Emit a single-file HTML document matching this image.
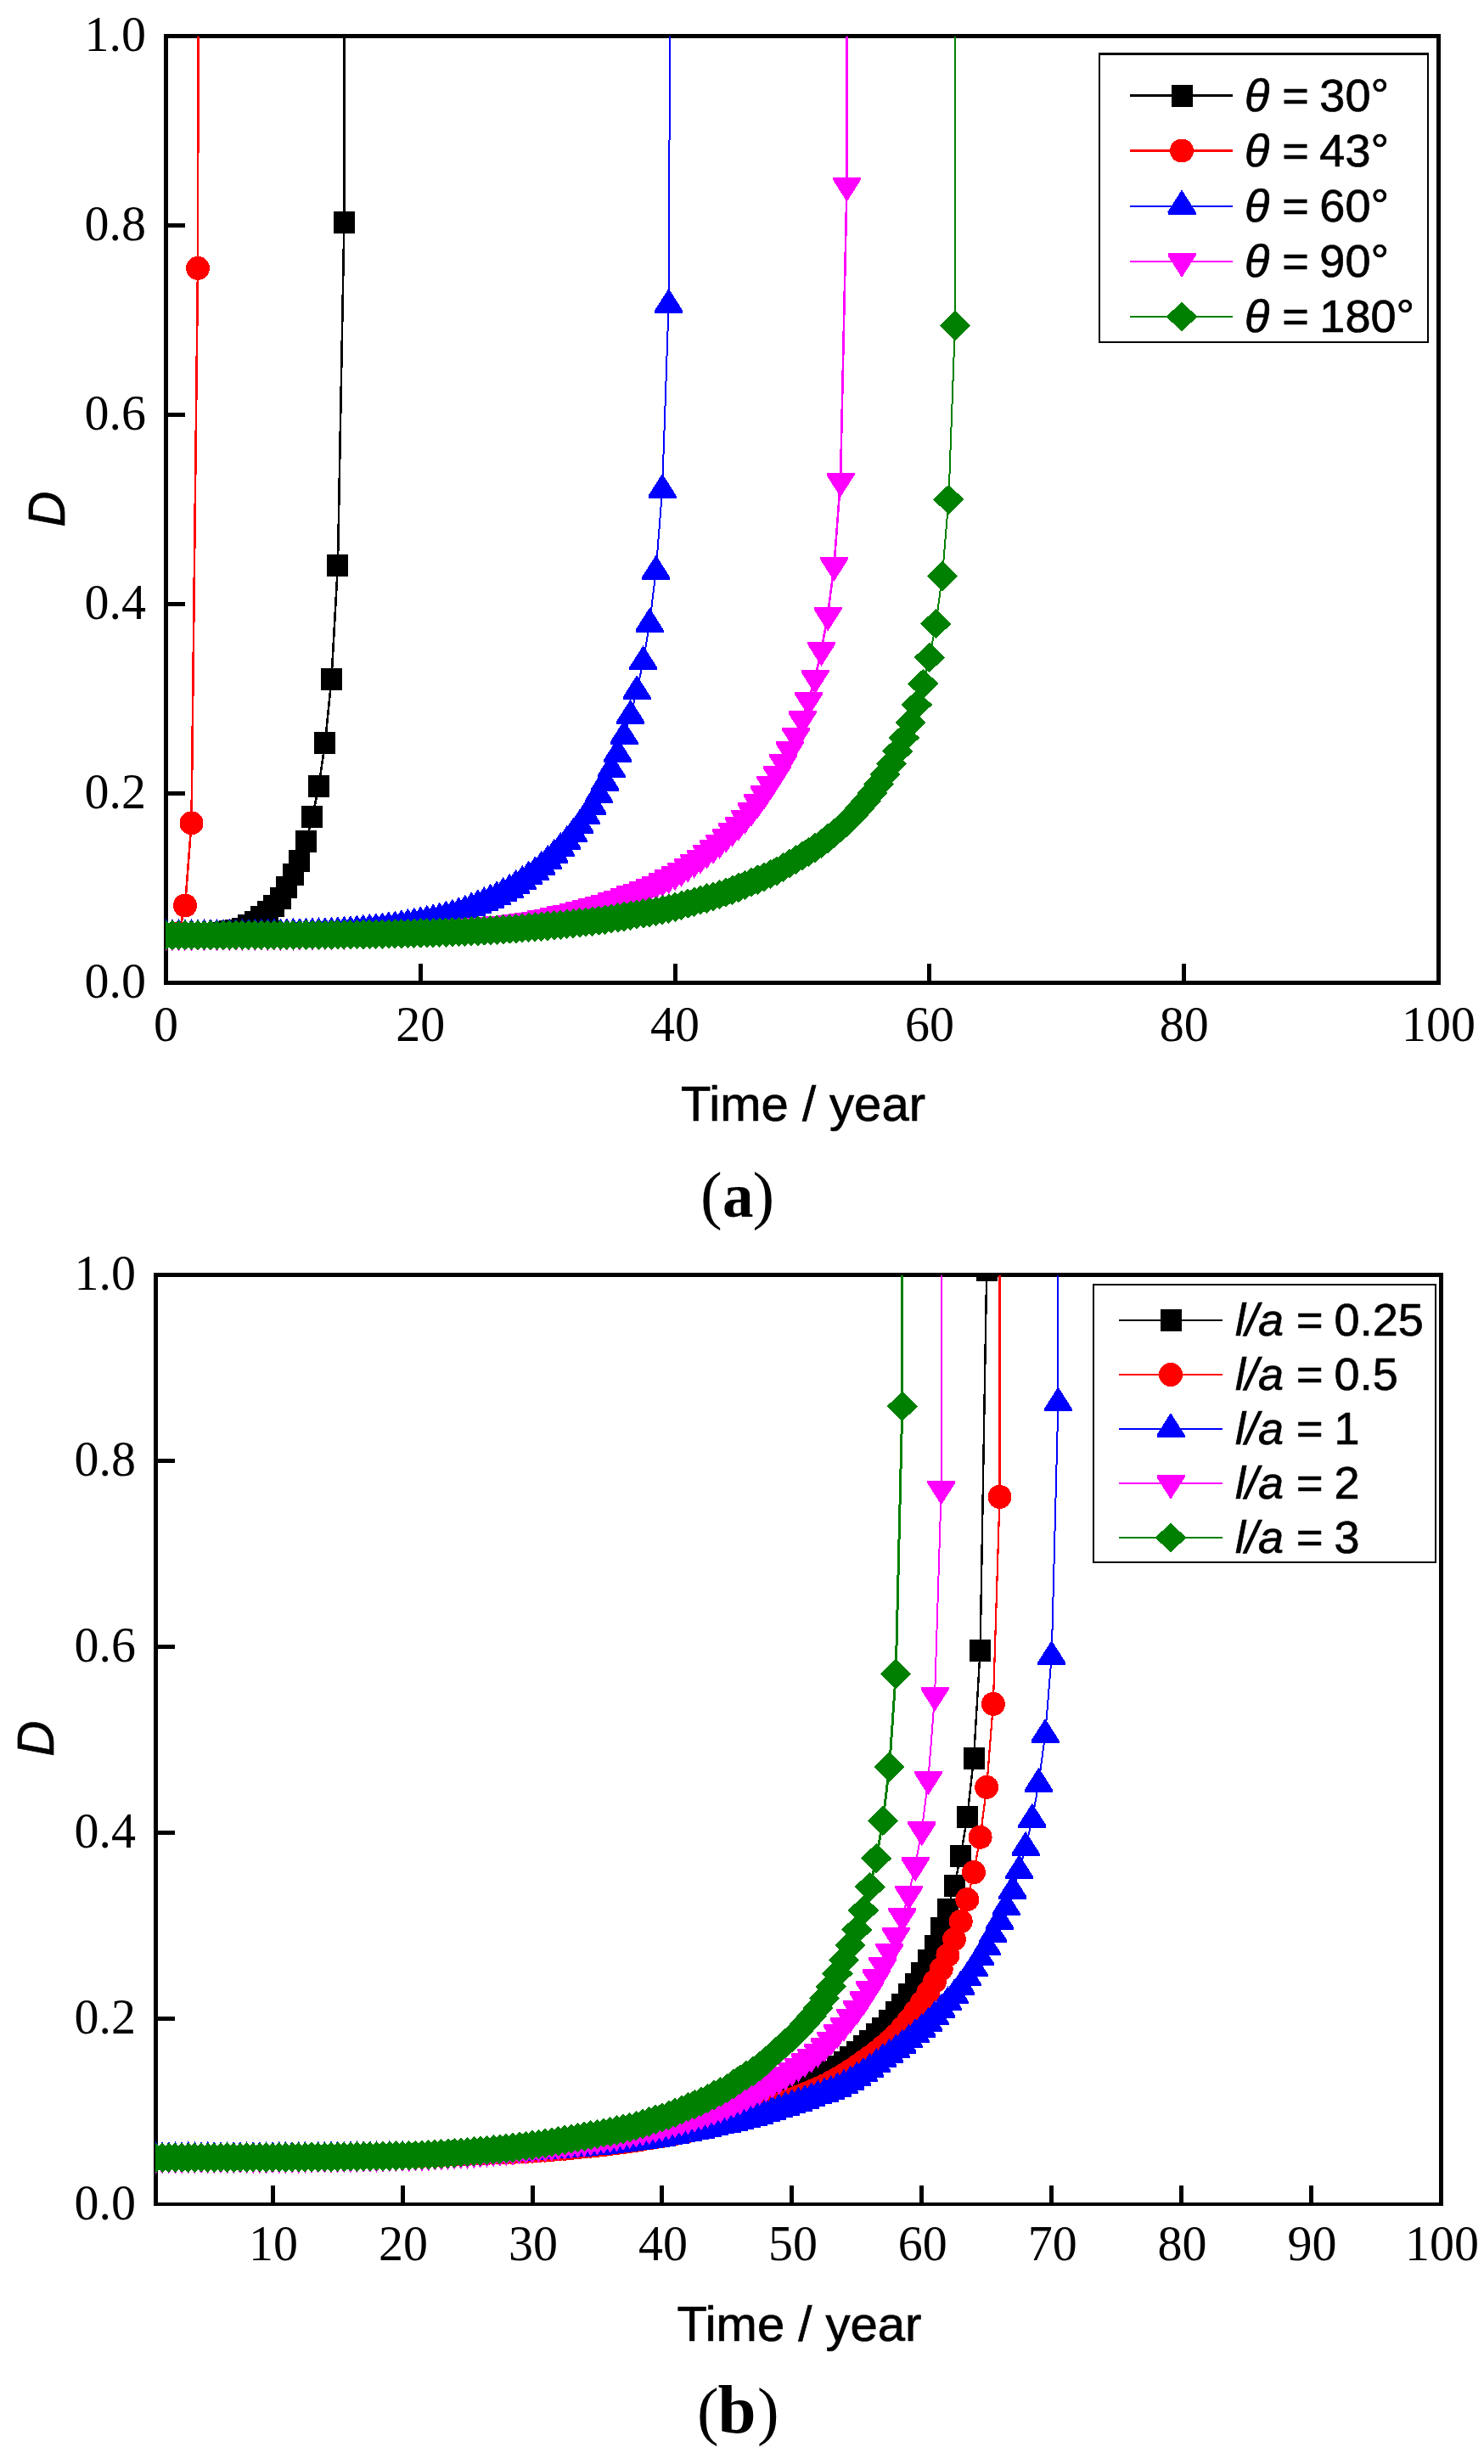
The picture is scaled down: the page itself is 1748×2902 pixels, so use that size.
<!DOCTYPE html>
<html lang="en"><head><meta charset="utf-8"><title>Damage evolution D versus time</title>
<style>
html,body{margin:0;padding:0;background:#fff}
svg{display:block}
.ser{font-family:"Liberation Serif",serif;font-size:58px;fill:#000}
.san{font-family:"Liberation Sans",sans-serif;fill:#000;stroke:#000;stroke-width:0.7px}
.it{font-style:italic}
</style></head><body>
<svg width="1748" height="2902" viewBox="0 0 1748 2902">
<rect width="1748" height="2902" fill="#fff"/>
<defs>
<clipPath id="ca"><rect x="195" y="43" width="1500" height="1114.5"/></clipPath>
<clipPath id="cb"><rect x="183" y="1502" width="1515" height="1094"/></clipPath>
</defs>
<g shape-rendering="crispEdges">
<rect x="492.8" y="1135" width="5" height="22.5"/><rect x="792.6" y="1135" width="5" height="22.5"/><rect x="1092.4" y="1135" width="5" height="22.5"/><rect x="1392.2" y="1135" width="5" height="22.5"/>
<rect x="195.5" y="932" width="22.5" height="5"/><rect x="195.5" y="709" width="22.5" height="5"/><rect x="195.5" y="486" width="22.5" height="5"/><rect x="195.5" y="263" width="22.5" height="5"/>
<path d="M193 40H1697V1160H193zM198 45V1155H1692V45z" fill="#000" fill-rule="evenodd"/>
</g>
<g clip-path="url(#ca)" shape-rendering="crispEdges">
<polyline fill="none" stroke="#000000" stroke-width="2.6" stroke-linejoin="round" points="195.5,1101.3 203,1101.3 210.5,1101.2 218,1101.1 225.5,1101.1 233,1100.9 240.5,1100.6 248,1100.1 255.5,1099.5 263,1098.6 270.4,1097.4 277.9,1095.8 285.4,1093.5 292.9,1090.1 300.4,1085.7 307.9,1079.9 315.4,1074.3 322.9,1066.5 330.4,1057.6 337.9,1045.3 345.4,1030.4 352.9,1013.5 360.4,991.3 367.9,962.3 375.4,926.3 382.9,875.4 390.4,800.4 397.9,666.3 405.4,261.5 405.9,2.5"/>
<path fill="#000000" d="M183 1088.3h25v26h-25zM190.5 1088.3h25v26h-25zM198 1088.2h25v26h-25zM205.5 1088.1h25v26h-25zM213 1088.1h25v26h-25zM220.5 1087.9h25v26h-25zM228 1087.6h25v26h-25zM235.5 1087.1h25v26h-25zM243 1086.5h25v26h-25zM250.5 1085.6h25v26h-25zM257.9 1084.4h25v26h-25zM265.4 1082.8h25v26h-25zM272.9 1080.5h25v26h-25zM280.4 1077.1h25v26h-25zM287.9 1072.7h25v26h-25zM295.4 1066.9h25v26h-25zM302.9 1061.3h25v26h-25zM310.4 1053.5h25v26h-25zM317.9 1044.6h25v26h-25zM325.4 1032.3h25v26h-25zM332.9 1017.4h25v26h-25zM340.4 1000.5h25v26h-25zM347.9 978.3h25v26h-25zM355.4 949.3h25v26h-25zM362.9 913.3h25v26h-25zM370.4 862.4h25v26h-25zM377.9 787.4h25v26h-25zM385.4 653.3h25v26h-25zM392.9 248.5h25v26h-25z"/>
<polyline fill="none" stroke="#ff0000" stroke-width="2.6" stroke-linejoin="round" points="195.5,1101.3 203,1101.1 210.5,1099.9 218,1066.5 225.5,969.4 233,315.8 233.5,2.5"/>
<path fill="#ff0000" d="M181.5 1101.3a14 14 0 1 0 28 0a14 14 0 1 0 -28 0zM189 1101.1a14 14 0 1 0 28 0a14 14 0 1 0 -28 0zM196.5 1099.9a14 14 0 1 0 28 0a14 14 0 1 0 -28 0zM204 1066.5a14 14 0 1 0 28 0a14 14 0 1 0 -28 0zM211.5 969.4a14 14 0 1 0 28 0a14 14 0 1 0 -28 0zM219 315.8a14 14 0 1 0 28 0a14 14 0 1 0 -28 0z"/>
<polyline fill="none" stroke="#0000ff" stroke-width="2" stroke-linejoin="round" points="195.5,1101.3 203,1101.3 210.5,1101.3 218,1101.2 225.5,1101.2 233,1101.2 240.5,1101.2 248,1101.1 255.5,1101.1 263,1101.1 270.4,1101 277.9,1101 285.4,1100.9 292.9,1100.9 300.4,1100.8 307.9,1100.7 315.4,1100.6 322.9,1100.5 330.4,1100.4 337.9,1100.3 345.4,1100.1 352.9,1099.9 360.4,1099.7 367.9,1099.5 375.4,1099.3 382.9,1099 390.4,1098.6 397.9,1098.2 405.4,1097.7 412.9,1097.1 420.4,1096.4 427.8,1095.7 435.3,1094.9 442.8,1094.1 450.3,1093.3 457.8,1092.3 465.3,1091.3 472.8,1090.1 480.3,1088.9 487.8,1087.6 495.3,1086.2 502.8,1084.8 510.3,1083.2 517.8,1081.4 525.3,1079.5 532.8,1077.5 540.3,1075.2 547.8,1072.5 555.3,1069.2 562.8,1066.3 570.2,1063 577.7,1059.6 585.2,1056.2 592.7,1051.8 600.2,1047.8 607.7,1042.9 615.2,1038 622.7,1032.4 630.2,1027.3 637.7,1021 645.2,1013.9 652.7,1006.7 660.2,998.9 667.7,991.1 675.2,982 682.7,972.1 690.2,961 697.7,949.8 705.2,935.8 712.7,921.8 720.1,906.1 727.6,887.8 735.1,867 742.6,842.7 750.1,814.1 757.6,779.1 765.1,734.8 772.6,672.7 780.1,576.8 787.6,358.7 789.3,2.5"/>
<path fill="#0000ff" d="M195.5 1082.3l16.5 26v3h-33v-3zM203 1082.3l16.5 26v3h-33v-3zM210.5 1082.3l16.5 26v3h-33v-3zM218 1082.2l16.5 26v3h-33v-3zM225.5 1082.2l16.5 26v3h-33v-3zM233 1082.2l16.5 26v3h-33v-3zM240.5 1082.2l16.5 26v3h-33v-3zM248 1082.1l16.5 26v3h-33v-3zM255.5 1082.1l16.5 26v3h-33v-3zM263 1082.1l16.5 26v3h-33v-3zM270.4 1082l16.5 26v3h-33v-3zM277.9 1082l16.5 26v3h-33v-3zM285.4 1081.9l16.5 26v3h-33v-3zM292.9 1081.9l16.5 26v3h-33v-3zM300.4 1081.8l16.5 26v3h-33v-3zM307.9 1081.7l16.5 26v3h-33v-3zM315.4 1081.6l16.5 26v3h-33v-3zM322.9 1081.5l16.5 26v3h-33v-3zM330.4 1081.4l16.5 26v3h-33v-3zM337.9 1081.3l16.5 26v3h-33v-3zM345.4 1081.1l16.5 26v3h-33v-3zM352.9 1080.9l16.5 26v3h-33v-3zM360.4 1080.7l16.5 26v3h-33v-3zM367.9 1080.5l16.5 26v3h-33v-3zM375.4 1080.3l16.5 26v3h-33v-3zM382.9 1080l16.5 26v3h-33v-3zM390.4 1079.6l16.5 26v3h-33v-3zM397.9 1079.2l16.5 26v3h-33v-3zM405.4 1078.7l16.5 26v3h-33v-3zM412.9 1078.1l16.5 26v3h-33v-3zM420.4 1077.4l16.5 26v3h-33v-3zM427.8 1076.7l16.5 26v3h-33v-3zM435.3 1075.9l16.5 26v3h-33v-3zM442.8 1075.1l16.5 26v3h-33v-3zM450.3 1074.3l16.5 26v3h-33v-3zM457.8 1073.3l16.5 26v3h-33v-3zM465.3 1072.3l16.5 26v3h-33v-3zM472.8 1071.1l16.5 26v3h-33v-3zM480.3 1069.9l16.5 26v3h-33v-3zM487.8 1068.6l16.5 26v3h-33v-3zM495.3 1067.2l16.5 26v3h-33v-3zM502.8 1065.8l16.5 26v3h-33v-3zM510.3 1064.2l16.5 26v3h-33v-3zM517.8 1062.4l16.5 26v3h-33v-3zM525.3 1060.5l16.5 26v3h-33v-3zM532.8 1058.5l16.5 26v3h-33v-3zM540.3 1056.2l16.5 26v3h-33v-3zM547.8 1053.5l16.5 26v3h-33v-3zM555.3 1050.2l16.5 26v3h-33v-3zM562.8 1047.3l16.5 26v3h-33v-3zM570.2 1044l16.5 26v3h-33v-3zM577.7 1040.6l16.5 26v3h-33v-3zM585.2 1037.2l16.5 26v3h-33v-3zM592.7 1032.8l16.5 26v3h-33v-3zM600.2 1028.8l16.5 26v3h-33v-3zM607.7 1023.9l16.5 26v3h-33v-3zM615.2 1019l16.5 26v3h-33v-3zM622.7 1013.4l16.5 26v3h-33v-3zM630.2 1008.3l16.5 26v3h-33v-3zM637.7 1002l16.5 26v3h-33v-3zM645.2 994.9l16.5 26v3h-33v-3zM652.7 987.7l16.5 26v3h-33v-3zM660.2 979.9l16.5 26v3h-33v-3zM667.7 972.1l16.5 26v3h-33v-3zM675.2 963l16.5 26v3h-33v-3zM682.7 953.1l16.5 26v3h-33v-3zM690.2 942l16.5 26v3h-33v-3zM697.7 930.8l16.5 26v3h-33v-3zM705.2 916.8l16.5 26v3h-33v-3zM712.7 902.8l16.5 26v3h-33v-3zM720.1 887.1l16.5 26v3h-33v-3zM727.6 868.8l16.5 26v3h-33v-3zM735.1 848l16.5 26v3h-33v-3zM742.6 823.7l16.5 26v3h-33v-3zM750.1 795.1l16.5 26v3h-33v-3zM757.6 760.1l16.5 26v3h-33v-3zM765.1 715.8l16.5 26v3h-33v-3zM772.6 653.7l16.5 26v3h-33v-3zM780.1 557.8l16.5 26v3h-33v-3zM787.6 339.7l16.5 26v3h-33v-3z"/>
<polyline fill="none" stroke="#ff00ff" stroke-width="2.6" stroke-linejoin="round" points="195.5,1101.3 203,1101.3 210.5,1101.3 218,1101.3 225.5,1101.2 233,1101.2 240.5,1101.2 248,1101.2 255.5,1101.2 263,1101.2 270.4,1101.1 277.9,1101.1 285.4,1101.1 292.9,1101 300.4,1101 307.9,1101 315.4,1100.9 322.9,1100.9 330.4,1100.9 337.9,1100.8 345.4,1100.7 352.9,1100.7 360.4,1100.6 367.9,1100.5 375.4,1100.4 382.9,1100.3 390.4,1100.2 397.9,1100.1 405.4,1099.9 412.9,1099.8 420.4,1099.6 427.8,1099.5 435.3,1099.2 442.8,1099 450.3,1098.8 457.8,1098.5 465.3,1098.2 472.8,1097.9 480.3,1097.5 487.8,1097.2 495.3,1096.8 502.8,1096.4 510.3,1095.9 517.8,1095.3 525.3,1094.6 532.8,1093.9 540.3,1093.2 547.8,1092.5 555.3,1091.8 562.8,1091.2 570.2,1090.6 577.7,1090 585.2,1089.3 592.7,1088.7 600.2,1088 607.7,1087.1 615.2,1086.2 622.7,1085.1 630.2,1083.8 637.7,1082.3 645.2,1080.8 652.7,1079.1 660.2,1077.4 667.7,1075.6 675.2,1073.9 682.7,1072 690.2,1070 697.7,1068 705.2,1065.8 712.7,1063.5 720.1,1061.2 727.6,1058.7 735.1,1056.1 742.6,1053.4 750.1,1050.7 757.6,1047.8 765.1,1044.7 772.6,1041.5 780.1,1038 787.6,1034.2 795.1,1030.2 802.6,1025.8 810.1,1020.8 817.6,1015.7 825.1,1010.6 832.6,1004.6 840.1,999 847.6,992.7 855.1,986 862.6,978.9 870,971.7 877.5,963.7 885,954.8 892.5,945 900,934.7 907.5,923.5 915,911.5 922.5,897.9 930,882.9 937.5,866.8 945,847.2 952.5,824.9 960,798.5 967.5,765.7 975,724.7 982.5,665.7 990,566.5 997.5,218.7 997.5,2.5"/>
<path fill="#ff00ff" d="M195.5 1120.3l-16.5 -26v-3h33v3zM203 1120.3l-16.5 -26v-3h33v3zM210.5 1120.3l-16.5 -26v-3h33v3zM218 1120.3l-16.5 -26v-3h33v3zM225.5 1120.2l-16.5 -26v-3h33v3zM233 1120.2l-16.5 -26v-3h33v3zM240.5 1120.2l-16.5 -26v-3h33v3zM248 1120.2l-16.5 -26v-3h33v3zM255.5 1120.2l-16.5 -26v-3h33v3zM263 1120.2l-16.5 -26v-3h33v3zM270.4 1120.1l-16.5 -26v-3h33v3zM277.9 1120.1l-16.5 -26v-3h33v3zM285.4 1120.1l-16.5 -26v-3h33v3zM292.9 1120l-16.5 -26v-3h33v3zM300.4 1120l-16.5 -26v-3h33v3zM307.9 1120l-16.5 -26v-3h33v3zM315.4 1119.9l-16.5 -26v-3h33v3zM322.9 1119.9l-16.5 -26v-3h33v3zM330.4 1119.9l-16.5 -26v-3h33v3zM337.9 1119.8l-16.5 -26v-3h33v3zM345.4 1119.7l-16.5 -26v-3h33v3zM352.9 1119.7l-16.5 -26v-3h33v3zM360.4 1119.6l-16.5 -26v-3h33v3zM367.9 1119.5l-16.5 -26v-3h33v3zM375.4 1119.4l-16.5 -26v-3h33v3zM382.9 1119.3l-16.5 -26v-3h33v3zM390.4 1119.2l-16.5 -26v-3h33v3zM397.9 1119.1l-16.5 -26v-3h33v3zM405.4 1118.9l-16.5 -26v-3h33v3zM412.9 1118.8l-16.5 -26v-3h33v3zM420.4 1118.6l-16.5 -26v-3h33v3zM427.8 1118.5l-16.5 -26v-3h33v3zM435.3 1118.2l-16.5 -26v-3h33v3zM442.8 1118l-16.5 -26v-3h33v3zM450.3 1117.8l-16.5 -26v-3h33v3zM457.8 1117.5l-16.5 -26v-3h33v3zM465.3 1117.2l-16.5 -26v-3h33v3zM472.8 1116.9l-16.5 -26v-3h33v3zM480.3 1116.5l-16.5 -26v-3h33v3zM487.8 1116.2l-16.5 -26v-3h33v3zM495.3 1115.8l-16.5 -26v-3h33v3zM502.8 1115.4l-16.5 -26v-3h33v3zM510.3 1114.9l-16.5 -26v-3h33v3zM517.8 1114.3l-16.5 -26v-3h33v3zM525.3 1113.6l-16.5 -26v-3h33v3zM532.8 1112.9l-16.5 -26v-3h33v3zM540.3 1112.2l-16.5 -26v-3h33v3zM547.8 1111.5l-16.5 -26v-3h33v3zM555.3 1110.8l-16.5 -26v-3h33v3zM562.8 1110.2l-16.5 -26v-3h33v3zM570.2 1109.6l-16.5 -26v-3h33v3zM577.7 1109l-16.5 -26v-3h33v3zM585.2 1108.3l-16.5 -26v-3h33v3zM592.7 1107.7l-16.5 -26v-3h33v3zM600.2 1107l-16.5 -26v-3h33v3zM607.7 1106.1l-16.5 -26v-3h33v3zM615.2 1105.2l-16.5 -26v-3h33v3zM622.7 1104.1l-16.5 -26v-3h33v3zM630.2 1102.8l-16.5 -26v-3h33v3zM637.7 1101.3l-16.5 -26v-3h33v3zM645.2 1099.8l-16.5 -26v-3h33v3zM652.7 1098.1l-16.5 -26v-3h33v3zM660.2 1096.4l-16.5 -26v-3h33v3zM667.7 1094.6l-16.5 -26v-3h33v3zM675.2 1092.9l-16.5 -26v-3h33v3zM682.7 1091l-16.5 -26v-3h33v3zM690.2 1089l-16.5 -26v-3h33v3zM697.7 1087l-16.5 -26v-3h33v3zM705.2 1084.8l-16.5 -26v-3h33v3zM712.7 1082.5l-16.5 -26v-3h33v3zM720.1 1080.2l-16.5 -26v-3h33v3zM727.6 1077.7l-16.5 -26v-3h33v3zM735.1 1075.1l-16.5 -26v-3h33v3zM742.6 1072.4l-16.5 -26v-3h33v3zM750.1 1069.7l-16.5 -26v-3h33v3zM757.6 1066.8l-16.5 -26v-3h33v3zM765.1 1063.7l-16.5 -26v-3h33v3zM772.6 1060.5l-16.5 -26v-3h33v3zM780.1 1057l-16.5 -26v-3h33v3zM787.6 1053.2l-16.5 -26v-3h33v3zM795.1 1049.2l-16.5 -26v-3h33v3zM802.6 1044.8l-16.5 -26v-3h33v3zM810.1 1039.8l-16.5 -26v-3h33v3zM817.6 1034.7l-16.5 -26v-3h33v3zM825.1 1029.6l-16.5 -26v-3h33v3zM832.6 1023.6l-16.5 -26v-3h33v3zM840.1 1018l-16.5 -26v-3h33v3zM847.6 1011.7l-16.5 -26v-3h33v3zM855.1 1005l-16.5 -26v-3h33v3zM862.6 997.9l-16.5 -26v-3h33v3zM870 990.7l-16.5 -26v-3h33v3zM877.5 982.7l-16.5 -26v-3h33v3zM885 973.8l-16.5 -26v-3h33v3zM892.5 964l-16.5 -26v-3h33v3zM900 953.7l-16.5 -26v-3h33v3zM907.5 942.5l-16.5 -26v-3h33v3zM915 930.5l-16.5 -26v-3h33v3zM922.5 916.9l-16.5 -26v-3h33v3zM930 901.9l-16.5 -26v-3h33v3zM937.5 885.8l-16.5 -26v-3h33v3zM945 866.2l-16.5 -26v-3h33v3zM952.5 843.9l-16.5 -26v-3h33v3zM960 817.5l-16.5 -26v-3h33v3zM967.5 784.7l-16.5 -26v-3h33v3zM975 743.7l-16.5 -26v-3h33v3zM982.5 684.7l-16.5 -26v-3h33v3zM990 585.5l-16.5 -26v-3h33v3zM997.5 237.7l-16.5 -26v-3h33v3z"/>
<polyline fill="none" stroke="#008000" stroke-width="2" stroke-linejoin="round" points="195.5,1101.3 203,1101.3 210.5,1101.3 218,1101.3 225.5,1101.3 233,1101.3 240.5,1101.3 248,1101.3 255.5,1101.3 263,1101.3 270.4,1101.2 277.9,1101.2 285.4,1101.2 292.9,1101.2 300.4,1101.2 307.9,1101.2 315.4,1101.2 322.9,1101.2 330.4,1101.2 337.9,1101.2 345.4,1101.2 352.9,1101.1 360.4,1101.1 367.9,1101.1 375.4,1101 382.9,1101 390.4,1100.9 397.9,1100.8 405.4,1100.7 412.9,1100.7 420.4,1100.6 427.8,1100.5 435.3,1100.4 442.8,1100.3 450.3,1100.1 457.8,1100 465.3,1099.8 472.8,1099.6 480.3,1099.5 487.8,1099.3 495.3,1099 502.8,1098.8 510.3,1098.6 517.8,1098.3 525.3,1098.1 532.8,1097.8 540.3,1097.5 547.8,1097.2 555.3,1096.8 562.8,1096.5 570.2,1096.1 577.7,1095.7 585.2,1095.2 592.7,1094.7 600.2,1094.1 607.7,1093.6 615.2,1093 622.7,1092.4 630.2,1091.8 637.7,1091.2 645.2,1090.5 652.7,1089.9 660.2,1089.2 667.7,1088.4 675.2,1087.7 682.7,1086.9 690.2,1086 697.7,1085.1 705.2,1084.1 712.7,1083.1 720.1,1081.9 727.6,1080.7 735.1,1079.5 742.6,1078.2 750.1,1077 757.6,1075.8 765.1,1074.5 772.6,1073.2 780.1,1071.8 787.6,1070.2 795.1,1068.3 802.6,1066.3 810.1,1064.2 817.6,1062.2 825.1,1060.1 832.6,1058.1 840.1,1056 847.6,1053.6 855.1,1051.1 862.6,1048.2 870,1045.3 877.5,1042.3 885,1039.2 892.5,1036.2 900,1033.1 907.5,1029.6 915,1025.8 922.5,1021.6 930,1017.1 937.5,1012.5 945,1007.9 952.5,1003.3 960,998.5 967.5,993.4 975,987.7 982.5,981.6 990,975 997.5,967.9 1005,960.4 1012.5,952.3 1020,943.6 1027.4,934.1 1034.9,923.7 1042.4,912.2 1049.9,899.3 1057.4,884.6 1064.9,869 1072.4,851.2 1079.9,830 1087.4,805.4 1094.9,774.2 1102.4,734.6 1109.9,678.5 1117.4,588.4 1124.9,383.5 1125.2,2.5"/>
<path fill="#008000" d="M195.5 1083.6l18.2 17.7l-18.2 17.7l-18.2 -17.7zM203 1083.6l18.2 17.7l-18.2 17.7l-18.2 -17.7zM210.5 1083.6l18.2 17.7l-18.2 17.7l-18.2 -17.7zM218 1083.6l18.2 17.7l-18.2 17.7l-18.2 -17.7zM225.5 1083.6l18.2 17.7l-18.2 17.7l-18.2 -17.7zM233 1083.6l18.2 17.7l-18.2 17.7l-18.2 -17.7zM240.5 1083.6l18.2 17.7l-18.2 17.7l-18.2 -17.7zM248 1083.6l18.2 17.7l-18.2 17.7l-18.2 -17.7zM255.5 1083.6l18.2 17.7l-18.2 17.7l-18.2 -17.7zM263 1083.6l18.2 17.7l-18.2 17.7l-18.2 -17.7zM270.4 1083.5l18.2 17.7l-18.2 17.7l-18.2 -17.7zM277.9 1083.5l18.2 17.7l-18.2 17.7l-18.2 -17.7zM285.4 1083.5l18.2 17.7l-18.2 17.7l-18.2 -17.7zM292.9 1083.5l18.2 17.7l-18.2 17.7l-18.2 -17.7zM300.4 1083.5l18.2 17.7l-18.2 17.7l-18.2 -17.7zM307.9 1083.5l18.2 17.7l-18.2 17.7l-18.2 -17.7zM315.4 1083.5l18.2 17.7l-18.2 17.7l-18.2 -17.7zM322.9 1083.5l18.2 17.7l-18.2 17.7l-18.2 -17.7zM330.4 1083.5l18.2 17.7l-18.2 17.7l-18.2 -17.7zM337.9 1083.5l18.2 17.7l-18.2 17.7l-18.2 -17.7zM345.4 1083.5l18.2 17.7l-18.2 17.7l-18.2 -17.7zM352.9 1083.4l18.2 17.7l-18.2 17.7l-18.2 -17.7zM360.4 1083.4l18.2 17.7l-18.2 17.7l-18.2 -17.7zM367.9 1083.4l18.2 17.7l-18.2 17.7l-18.2 -17.7zM375.4 1083.3l18.2 17.7l-18.2 17.7l-18.2 -17.7zM382.9 1083.3l18.2 17.7l-18.2 17.7l-18.2 -17.7zM390.4 1083.2l18.2 17.7l-18.2 17.7l-18.2 -17.7zM397.9 1083.1l18.2 17.7l-18.2 17.7l-18.2 -17.7zM405.4 1083l18.2 17.7l-18.2 17.7l-18.2 -17.7zM412.9 1083l18.2 17.7l-18.2 17.7l-18.2 -17.7zM420.4 1082.9l18.2 17.7l-18.2 17.7l-18.2 -17.7zM427.8 1082.8l18.2 17.7l-18.2 17.7l-18.2 -17.7zM435.3 1082.7l18.2 17.7l-18.2 17.7l-18.2 -17.7zM442.8 1082.6l18.2 17.7l-18.2 17.7l-18.2 -17.7zM450.3 1082.4l18.2 17.7l-18.2 17.7l-18.2 -17.7zM457.8 1082.3l18.2 17.7l-18.2 17.7l-18.2 -17.7zM465.3 1082.1l18.2 17.7l-18.2 17.7l-18.2 -17.7zM472.8 1081.9l18.2 17.7l-18.2 17.7l-18.2 -17.7zM480.3 1081.8l18.2 17.7l-18.2 17.7l-18.2 -17.7zM487.8 1081.6l18.2 17.7l-18.2 17.7l-18.2 -17.7zM495.3 1081.3l18.2 17.7l-18.2 17.7l-18.2 -17.7zM502.8 1081.1l18.2 17.7l-18.2 17.7l-18.2 -17.7zM510.3 1080.9l18.2 17.7l-18.2 17.7l-18.2 -17.7zM517.8 1080.6l18.2 17.7l-18.2 17.7l-18.2 -17.7zM525.3 1080.4l18.2 17.7l-18.2 17.7l-18.2 -17.7zM532.8 1080.1l18.2 17.7l-18.2 17.7l-18.2 -17.7zM540.3 1079.8l18.2 17.7l-18.2 17.7l-18.2 -17.7zM547.8 1079.5l18.2 17.7l-18.2 17.7l-18.2 -17.7zM555.3 1079.1l18.2 17.7l-18.2 17.7l-18.2 -17.7zM562.8 1078.8l18.2 17.7l-18.2 17.7l-18.2 -17.7zM570.2 1078.4l18.2 17.7l-18.2 17.7l-18.2 -17.7zM577.7 1078l18.2 17.7l-18.2 17.7l-18.2 -17.7zM585.2 1077.5l18.2 17.7l-18.2 17.7l-18.2 -17.7zM592.7 1077l18.2 17.7l-18.2 17.7l-18.2 -17.7zM600.2 1076.4l18.2 17.7l-18.2 17.7l-18.2 -17.7zM607.7 1075.9l18.2 17.7l-18.2 17.7l-18.2 -17.7zM615.2 1075.3l18.2 17.7l-18.2 17.7l-18.2 -17.7zM622.7 1074.7l18.2 17.7l-18.2 17.7l-18.2 -17.7zM630.2 1074.1l18.2 17.7l-18.2 17.7l-18.2 -17.7zM637.7 1073.5l18.2 17.7l-18.2 17.7l-18.2 -17.7zM645.2 1072.8l18.2 17.7l-18.2 17.7l-18.2 -17.7zM652.7 1072.2l18.2 17.7l-18.2 17.7l-18.2 -17.7zM660.2 1071.5l18.2 17.7l-18.2 17.7l-18.2 -17.7zM667.7 1070.7l18.2 17.7l-18.2 17.7l-18.2 -17.7zM675.2 1070l18.2 17.7l-18.2 17.7l-18.2 -17.7zM682.7 1069.2l18.2 17.7l-18.2 17.7l-18.2 -17.7zM690.2 1068.3l18.2 17.7l-18.2 17.7l-18.2 -17.7zM697.7 1067.4l18.2 17.7l-18.2 17.7l-18.2 -17.7zM705.2 1066.4l18.2 17.7l-18.2 17.7l-18.2 -17.7zM712.7 1065.4l18.2 17.7l-18.2 17.7l-18.2 -17.7zM720.1 1064.2l18.2 17.7l-18.2 17.7l-18.2 -17.7zM727.6 1063l18.2 17.7l-18.2 17.7l-18.2 -17.7zM735.1 1061.8l18.2 17.7l-18.2 17.7l-18.2 -17.7zM742.6 1060.5l18.2 17.7l-18.2 17.7l-18.2 -17.7zM750.1 1059.3l18.2 17.7l-18.2 17.7l-18.2 -17.7zM757.6 1058.1l18.2 17.7l-18.2 17.7l-18.2 -17.7zM765.1 1056.8l18.2 17.7l-18.2 17.7l-18.2 -17.7zM772.6 1055.5l18.2 17.7l-18.2 17.7l-18.2 -17.7zM780.1 1054.1l18.2 17.7l-18.2 17.7l-18.2 -17.7zM787.6 1052.5l18.2 17.7l-18.2 17.7l-18.2 -17.7zM795.1 1050.6l18.2 17.7l-18.2 17.7l-18.2 -17.7zM802.6 1048.6l18.2 17.7l-18.2 17.7l-18.2 -17.7zM810.1 1046.5l18.2 17.7l-18.2 17.7l-18.2 -17.7zM817.6 1044.5l18.2 17.7l-18.2 17.7l-18.2 -17.7zM825.1 1042.4l18.2 17.7l-18.2 17.7l-18.2 -17.7zM832.6 1040.4l18.2 17.7l-18.2 17.7l-18.2 -17.7zM840.1 1038.3l18.2 17.7l-18.2 17.7l-18.2 -17.7zM847.6 1035.9l18.2 17.7l-18.2 17.7l-18.2 -17.7zM855.1 1033.4l18.2 17.7l-18.2 17.7l-18.2 -17.7zM862.6 1030.5l18.2 17.7l-18.2 17.7l-18.2 -17.7zM870 1027.6l18.2 17.7l-18.2 17.7l-18.2 -17.7zM877.5 1024.6l18.2 17.7l-18.2 17.7l-18.2 -17.7zM885 1021.5l18.2 17.7l-18.2 17.7l-18.2 -17.7zM892.5 1018.5l18.2 17.7l-18.2 17.7l-18.2 -17.7zM900 1015.4l18.2 17.7l-18.2 17.7l-18.2 -17.7zM907.5 1011.9l18.2 17.7l-18.2 17.7l-18.2 -17.7zM915 1008.1l18.2 17.7l-18.2 17.7l-18.2 -17.7zM922.5 1003.9l18.2 17.7l-18.2 17.7l-18.2 -17.7zM930 999.4l18.2 17.7l-18.2 17.7l-18.2 -17.7zM937.5 994.8l18.2 17.7l-18.2 17.7l-18.2 -17.7zM945 990.2l18.2 17.7l-18.2 17.7l-18.2 -17.7zM952.5 985.6l18.2 17.7l-18.2 17.7l-18.2 -17.7zM960 980.8l18.2 17.7l-18.2 17.7l-18.2 -17.7zM967.5 975.7l18.2 17.7l-18.2 17.7l-18.2 -17.7zM975 970l18.2 17.7l-18.2 17.7l-18.2 -17.7zM982.5 963.9l18.2 17.7l-18.2 17.7l-18.2 -17.7zM990 957.3l18.2 17.7l-18.2 17.7l-18.2 -17.7zM997.5 950.2l18.2 17.7l-18.2 17.7l-18.2 -17.7zM1005 942.7l18.2 17.7l-18.2 17.7l-18.2 -17.7zM1012.5 934.6l18.2 17.7l-18.2 17.7l-18.2 -17.7zM1020 925.9l18.2 17.7l-18.2 17.7l-18.2 -17.7zM1027.4 916.4l18.2 17.7l-18.2 17.7l-18.2 -17.7zM1034.9 906l18.2 17.7l-18.2 17.7l-18.2 -17.7zM1042.4 894.5l18.2 17.7l-18.2 17.7l-18.2 -17.7zM1049.9 881.6l18.2 17.7l-18.2 17.7l-18.2 -17.7zM1057.4 866.9l18.2 17.7l-18.2 17.7l-18.2 -17.7zM1064.9 851.3l18.2 17.7l-18.2 17.7l-18.2 -17.7zM1072.4 833.5l18.2 17.7l-18.2 17.7l-18.2 -17.7zM1079.9 812.3l18.2 17.7l-18.2 17.7l-18.2 -17.7zM1087.4 787.7l18.2 17.7l-18.2 17.7l-18.2 -17.7zM1094.9 756.5l18.2 17.7l-18.2 17.7l-18.2 -17.7zM1102.4 716.9l18.2 17.7l-18.2 17.7l-18.2 -17.7zM1109.9 660.8l18.2 17.7l-18.2 17.7l-18.2 -17.7zM1117.4 570.7l18.2 17.7l-18.2 17.7l-18.2 -17.7zM1124.9 365.8l18.2 17.7l-18.2 17.7l-18.2 -17.7z"/>
</g>
<g class="ser">
<text transform="translate(172 1175.4) scale(1 1.03)" text-anchor="end">0.0</text>
<text transform="translate(172 952.4) scale(1 1.03)" text-anchor="end">0.2</text>
<text transform="translate(172 729.4) scale(1 1.03)" text-anchor="end">0.4</text>
<text transform="translate(172 506.4) scale(1 1.03)" text-anchor="end">0.6</text>
<text transform="translate(172 283.4) scale(1 1.03)" text-anchor="end">0.8</text>
<text transform="translate(172 60.4) scale(1 1.03)" text-anchor="end">1.0</text>
<text transform="translate(195.5 1225.6) scale(1 1.03)" text-anchor="middle">0</text>
<text transform="translate(495.3 1225.6) scale(1 1.03)" text-anchor="middle">20</text>
<text transform="translate(795.1 1225.6) scale(1 1.03)" text-anchor="middle">40</text>
<text transform="translate(1094.9 1225.6) scale(1 1.03)" text-anchor="middle">60</text>
<text transform="translate(1394.7 1225.6) scale(1 1.03)" text-anchor="middle">80</text>
<text transform="translate(1694.5 1225.6) scale(1 1.03)" text-anchor="middle">100</text>
</g>
<text class="san" font-size="58" x="946" y="1319.9" text-anchor="middle">Time / year</text>
<text class="san it" font-size="58" transform="translate(76 599.5) rotate(-90) scale(1 1.05)" text-anchor="middle">D</text>
<text font-family="'Liberation Serif',serif" font-size="77" y="1433.1"><tspan x="825">(</tspan><tspan x="851" font-weight="bold" font-size="73">a</tspan><tspan x="886.5">)</tspan></text>
<g shape-rendering="crispEdges">
<rect x="1294" y="62" width="389" height="342" fill="#000"/>
<rect x="1296" y="65" width="385" height="337" fill="#fff"/>
<rect x="1331" y="111" width="121" height="3" fill="#000000"/>
<path fill="#000000" d="M1379.5 99.5h25v26h-25z"/>
<rect x="1331" y="176" width="121" height="3" fill="#ff0000"/>
<path fill="#ff0000" d="M1378 177.5a14 14 0 1 0 28 0a14 14 0 1 0 -28 0z"/>
<rect x="1331" y="241.5" width="121" height="2" fill="#0000ff"/>
<path fill="#0000ff" d="M1392 223.5l16.5 26v3h-33v-3z"/>
<rect x="1331" y="307" width="121" height="2" fill="#ff00ff"/>
<path fill="#ff00ff" d="M1392 327l-16.5 -26v-3h33v3z"/>
<rect x="1331" y="372" width="121" height="2" fill="#008000"/>
<path fill="#008000" d="M1392 355.3l18.2 17.7l-18.2 17.7l-18.2 -17.7z"/>
</g>
<g class="san" font-size="54">
<text x="1466" y="130.8"><tspan class="it">θ</tspan> = <tspan dx="-2.5">30°</tspan></text>
<text x="1466" y="195.8"><tspan class="it">θ</tspan> = <tspan dx="-2.5">43°</tspan></text>
<text x="1466" y="260.8"><tspan class="it">θ</tspan> = <tspan dx="-2.5">60°</tspan></text>
<text x="1466" y="326.3"><tspan class="it">θ</tspan> = <tspan dx="-2.5">90°</tspan></text>
<text x="1466" y="391.3"><tspan class="it">θ</tspan> = <tspan dx="-2.5">180°</tspan></text>
</g>
<g shape-rendering="crispEdges">
<rect x="318.6" y="2574" width="5" height="22"/><rect x="471.6" y="2574" width="5" height="22"/><rect x="624.5" y="2574" width="5" height="22"/><rect x="777.4" y="2574" width="5" height="22"/><rect x="930.4" y="2574" width="5" height="22"/><rect x="1083.3" y="2574" width="5" height="22"/><rect x="1236.2" y="2574" width="5" height="22"/><rect x="1389.1" y="2574" width="5" height="22"/><rect x="1542.1" y="2574" width="5" height="22"/>
<rect x="183.5" y="2374.6" width="22.5" height="5"/><rect x="183.5" y="2155.7" width="22.5" height="5"/><rect x="183.5" y="1936.8" width="22.5" height="5"/><rect x="183.5" y="1717.9" width="22.5" height="5"/>
<path d="M181 1499H1700V2598H181zM186 1504V2594H1695V1504z" fill="#000" fill-rule="evenodd"/>
</g>
<g clip-path="url(#cb)" shape-rendering="crispEdges">
<polyline fill="none" stroke="#000000" stroke-width="2.4" stroke-linejoin="round" points="175.9,2541.3 183.5,2541.3 191.1,2541.3 198.8,2541.3 206.4,2541.3 214.1,2541.3 221.7,2541.2 229.4,2541.2 237,2541.2 244.7,2541.2 252.3,2541.2 260,2541.2 267.6,2541.2 275.3,2541.2 282.9,2541.1 290.6,2541.1 298.2,2541.1 305.8,2541.1 313.5,2541.1 321.1,2541.1 328.8,2541 336.4,2541 344.1,2541 351.7,2540.9 359.4,2540.9 367,2540.8 374.7,2540.7 382.3,2540.7 390,2540.6 397.6,2540.5 405.2,2540.4 412.9,2540.3 420.5,2540.2 428.2,2540.1 435.8,2540 443.5,2539.8 451.1,2539.7 458.8,2539.6 466.4,2539.4 474.1,2539.3 481.7,2539.1 489.4,2538.9 497,2538.7 504.7,2538.4 512.3,2538.1 519.9,2537.8 527.6,2537.4 535.2,2537.1 542.9,2536.7 550.5,2536.3 558.2,2536 565.8,2535.6 573.5,2535.1 581.1,2534.7 588.8,2534.2 596.4,2533.7 604.1,2533.2 611.7,2532.6 619.3,2532 627,2531.4 634.6,2530.8 642.3,2530.1 649.9,2529.4 657.6,2528.6 665.2,2527.8 672.9,2526.9 680.5,2526 688.2,2525.1 695.8,2524.2 703.5,2523.2 711.1,2522.2 718.8,2521.2 726.4,2520.1 734,2518.9 741.7,2517.7 749.3,2516.5 757,2515.2 764.6,2513.9 772.3,2512.6 779.9,2511.2 787.6,2509.8 795.2,2508.3 802.9,2506.9 810.5,2505.3 818.2,2503.8 825.8,2502.1 833.4,2500.4 841.1,2498.6 848.7,2496.8 856.4,2494.8 864,2492.7 871.7,2490.4 879.3,2488.1 887,2485.6 894.6,2483 902.3,2480.2 909.9,2477.3 917.6,2474.2 925.2,2470.9 932.9,2467.4 940.5,2463.6 948.1,2459.5 955.8,2455.1 963.4,2450.3 971.1,2445.3 978.7,2439.9 986.4,2434.3 994,2428.5 1001.7,2423.2 1009.3,2416.7 1017,2410.2 1024.6,2403.8 1032.3,2396.3 1039.9,2388.7 1047.6,2379.6 1055.2,2370.4 1062.8,2360.6 1070.5,2349.4 1078.1,2337.4 1085.8,2323.6 1093.4,2308.5 1101.1,2291.6 1108.7,2271.2 1116.4,2248.5 1124,2220.5 1131.7,2185.6 1139.3,2139.6 1147,2070.6 1154.6,1943.7 1162.2,1496 1162.3,1461.5"/>
<path fill="#000000" d="M163.4 2528.3h25v26h-25zM171 2528.3h25v26h-25zM178.6 2528.3h25v26h-25zM186.3 2528.3h25v26h-25zM193.9 2528.3h25v26h-25zM201.6 2528.3h25v26h-25zM209.2 2528.2h25v26h-25zM216.9 2528.2h25v26h-25zM224.5 2528.2h25v26h-25zM232.2 2528.2h25v26h-25zM239.8 2528.2h25v26h-25zM247.5 2528.2h25v26h-25zM255.1 2528.2h25v26h-25zM262.8 2528.2h25v26h-25zM270.4 2528.1h25v26h-25zM278.1 2528.1h25v26h-25zM285.7 2528.1h25v26h-25zM293.3 2528.1h25v26h-25zM301 2528.1h25v26h-25zM308.6 2528.1h25v26h-25zM316.3 2528h25v26h-25zM323.9 2528h25v26h-25zM331.6 2528h25v26h-25zM339.2 2527.9h25v26h-25zM346.9 2527.9h25v26h-25zM354.5 2527.8h25v26h-25zM362.2 2527.7h25v26h-25zM369.8 2527.7h25v26h-25zM377.5 2527.6h25v26h-25zM385.1 2527.5h25v26h-25zM392.7 2527.4h25v26h-25zM400.4 2527.3h25v26h-25zM408 2527.2h25v26h-25zM415.7 2527.1h25v26h-25zM423.3 2527h25v26h-25zM431 2526.8h25v26h-25zM438.6 2526.7h25v26h-25zM446.3 2526.6h25v26h-25zM453.9 2526.4h25v26h-25zM461.6 2526.3h25v26h-25zM469.2 2526.1h25v26h-25zM476.9 2525.9h25v26h-25zM484.5 2525.7h25v26h-25zM492.2 2525.4h25v26h-25zM499.8 2525.1h25v26h-25zM507.4 2524.8h25v26h-25zM515.1 2524.4h25v26h-25zM522.7 2524.1h25v26h-25zM530.4 2523.7h25v26h-25zM538 2523.3h25v26h-25zM545.7 2523h25v26h-25zM553.3 2522.6h25v26h-25zM561 2522.1h25v26h-25zM568.6 2521.7h25v26h-25zM576.3 2521.2h25v26h-25zM583.9 2520.7h25v26h-25zM591.6 2520.2h25v26h-25zM599.2 2519.6h25v26h-25zM606.8 2519h25v26h-25zM614.5 2518.4h25v26h-25zM622.1 2517.8h25v26h-25zM629.8 2517.1h25v26h-25zM637.4 2516.4h25v26h-25zM645.1 2515.6h25v26h-25zM652.7 2514.8h25v26h-25zM660.4 2513.9h25v26h-25zM668 2513h25v26h-25zM675.7 2512.1h25v26h-25zM683.3 2511.2h25v26h-25zM691 2510.2h25v26h-25zM698.6 2509.2h25v26h-25zM706.3 2508.2h25v26h-25zM713.9 2507.1h25v26h-25zM721.5 2505.9h25v26h-25zM729.2 2504.7h25v26h-25zM736.8 2503.5h25v26h-25zM744.5 2502.2h25v26h-25zM752.1 2500.9h25v26h-25zM759.8 2499.6h25v26h-25zM767.4 2498.2h25v26h-25zM775.1 2496.8h25v26h-25zM782.7 2495.3h25v26h-25zM790.4 2493.9h25v26h-25zM798 2492.3h25v26h-25zM805.7 2490.8h25v26h-25zM813.3 2489.1h25v26h-25zM820.9 2487.4h25v26h-25zM828.6 2485.6h25v26h-25zM836.2 2483.8h25v26h-25zM843.9 2481.8h25v26h-25zM851.5 2479.7h25v26h-25zM859.2 2477.4h25v26h-25zM866.8 2475.1h25v26h-25zM874.5 2472.6h25v26h-25zM882.1 2470h25v26h-25zM889.8 2467.2h25v26h-25zM897.4 2464.3h25v26h-25zM905.1 2461.2h25v26h-25zM912.7 2457.9h25v26h-25zM920.4 2454.4h25v26h-25zM928 2450.6h25v26h-25zM935.6 2446.5h25v26h-25zM943.3 2442.1h25v26h-25zM950.9 2437.3h25v26h-25zM958.6 2432.3h25v26h-25zM966.2 2426.9h25v26h-25zM973.9 2421.3h25v26h-25zM981.5 2415.5h25v26h-25zM989.2 2410.2h25v26h-25zM996.8 2403.7h25v26h-25zM1004.5 2397.2h25v26h-25zM1012.1 2390.8h25v26h-25zM1019.8 2383.3h25v26h-25zM1027.4 2375.7h25v26h-25zM1035.1 2366.6h25v26h-25zM1042.7 2357.4h25v26h-25zM1050.3 2347.6h25v26h-25zM1058 2336.4h25v26h-25zM1065.6 2324.4h25v26h-25zM1073.3 2310.6h25v26h-25zM1080.9 2295.5h25v26h-25zM1088.6 2278.6h25v26h-25zM1096.2 2258.2h25v26h-25zM1103.9 2235.5h25v26h-25zM1111.5 2207.5h25v26h-25zM1119.2 2172.6h25v26h-25zM1126.8 2126.6h25v26h-25zM1134.5 2057.6h25v26h-25zM1142.1 1930.7h25v26h-25zM1149.7 1483h25v26h-25z"/>
<polyline fill="none" stroke="#ff0000" stroke-width="2.2" stroke-linejoin="round" points="175.9,2541.3 183.5,2541.3 191.1,2541.3 198.8,2541.3 206.4,2541.3 214.1,2541.3 221.7,2541.2 229.4,2541.2 237,2541.2 244.7,2541.2 252.3,2541.2 260,2541.2 267.6,2541.2 275.3,2541.2 282.9,2541.1 290.6,2541.1 298.2,2541.1 305.8,2541.1 313.5,2541.1 321.1,2541.1 328.8,2541 336.4,2541 344.1,2541 351.7,2540.9 359.4,2540.9 367,2540.8 374.7,2540.8 382.3,2540.7 390,2540.6 397.6,2540.6 405.2,2540.5 412.9,2540.4 420.5,2540.3 428.2,2540.2 435.8,2540.1 443.5,2540 451.1,2539.9 458.8,2539.8 466.4,2539.6 474.1,2539.5 481.7,2539.4 489.4,2539.2 497,2539 504.7,2538.7 512.3,2538.4 519.9,2538.1 527.6,2537.8 535.2,2537.5 542.9,2537.2 550.5,2536.9 558.2,2536.6 565.8,2536.3 573.5,2536 581.1,2535.7 588.8,2535.4 596.4,2535.1 604.1,2534.8 611.7,2534.4 619.3,2534 627,2533.6 634.6,2533.1 642.3,2532.6 649.9,2532 657.6,2531.4 665.2,2530.7 672.9,2530 680.5,2529.3 688.2,2528.5 695.8,2527.7 703.5,2526.8 711.1,2526 718.8,2525 726.4,2524.1 734,2523.1 741.7,2522 749.3,2520.9 757,2519.7 764.6,2518.5 772.3,2517.2 779.9,2515.9 787.6,2514.5 795.2,2513 802.9,2511.5 810.5,2509.9 818.2,2508.2 825.8,2506.4 833.4,2504.6 841.1,2502.6 848.7,2500.6 856.4,2498.6 864,2496.4 871.7,2494.2 879.3,2491.8 887,2489.3 894.6,2486.7 902.3,2484 909.9,2481.2 917.6,2478.3 925.2,2475.3 932.9,2472.3 940.5,2469.3 948.1,2466.2 955.8,2463.1 963.4,2459.9 971.1,2456.3 978.7,2452.4 986.4,2448.2 994,2443.6 1001.7,2438.6 1009.3,2433.5 1017,2428.1 1024.6,2422.6 1032.3,2416.9 1039.9,2410.7 1047.6,2404.1 1055.2,2396.8 1062.8,2388.6 1070.5,2379.5 1078.1,2369.4 1085.8,2358.5 1093.4,2346.6 1101.1,2333.5 1108.7,2319 1116.4,2302.9 1124,2284.1 1131.7,2262.9 1139.3,2237.1 1147,2205.2 1154.6,2163.8 1162.2,2104.9 1169.9,2006.8 1177.5,1762.9 1177.6,1461.5"/>
<path fill="#ff0000" d="M161.9 2541.3a14 14 0 1 0 28 0a14 14 0 1 0 -28 0zM169.5 2541.3a14 14 0 1 0 28 0a14 14 0 1 0 -28 0zM177.1 2541.3a14 14 0 1 0 28 0a14 14 0 1 0 -28 0zM184.8 2541.3a14 14 0 1 0 28 0a14 14 0 1 0 -28 0zM192.4 2541.3a14 14 0 1 0 28 0a14 14 0 1 0 -28 0zM200.1 2541.3a14 14 0 1 0 28 0a14 14 0 1 0 -28 0zM207.7 2541.2a14 14 0 1 0 28 0a14 14 0 1 0 -28 0zM215.4 2541.2a14 14 0 1 0 28 0a14 14 0 1 0 -28 0zM223 2541.2a14 14 0 1 0 28 0a14 14 0 1 0 -28 0zM230.7 2541.2a14 14 0 1 0 28 0a14 14 0 1 0 -28 0zM238.3 2541.2a14 14 0 1 0 28 0a14 14 0 1 0 -28 0zM246 2541.2a14 14 0 1 0 28 0a14 14 0 1 0 -28 0zM253.6 2541.2a14 14 0 1 0 28 0a14 14 0 1 0 -28 0zM261.3 2541.2a14 14 0 1 0 28 0a14 14 0 1 0 -28 0zM268.9 2541.1a14 14 0 1 0 28 0a14 14 0 1 0 -28 0zM276.6 2541.1a14 14 0 1 0 28 0a14 14 0 1 0 -28 0zM284.2 2541.1a14 14 0 1 0 28 0a14 14 0 1 0 -28 0zM291.8 2541.1a14 14 0 1 0 28 0a14 14 0 1 0 -28 0zM299.5 2541.1a14 14 0 1 0 28 0a14 14 0 1 0 -28 0zM307.1 2541.1a14 14 0 1 0 28 0a14 14 0 1 0 -28 0zM314.8 2541a14 14 0 1 0 28 0a14 14 0 1 0 -28 0zM322.4 2541a14 14 0 1 0 28 0a14 14 0 1 0 -28 0zM330.1 2541a14 14 0 1 0 28 0a14 14 0 1 0 -28 0zM337.7 2540.9a14 14 0 1 0 28 0a14 14 0 1 0 -28 0zM345.4 2540.9a14 14 0 1 0 28 0a14 14 0 1 0 -28 0zM353 2540.8a14 14 0 1 0 28 0a14 14 0 1 0 -28 0zM360.7 2540.8a14 14 0 1 0 28 0a14 14 0 1 0 -28 0zM368.3 2540.7a14 14 0 1 0 28 0a14 14 0 1 0 -28 0zM376 2540.6a14 14 0 1 0 28 0a14 14 0 1 0 -28 0zM383.6 2540.6a14 14 0 1 0 28 0a14 14 0 1 0 -28 0zM391.2 2540.5a14 14 0 1 0 28 0a14 14 0 1 0 -28 0zM398.9 2540.4a14 14 0 1 0 28 0a14 14 0 1 0 -28 0zM406.5 2540.3a14 14 0 1 0 28 0a14 14 0 1 0 -28 0zM414.2 2540.2a14 14 0 1 0 28 0a14 14 0 1 0 -28 0zM421.8 2540.1a14 14 0 1 0 28 0a14 14 0 1 0 -28 0zM429.5 2540a14 14 0 1 0 28 0a14 14 0 1 0 -28 0zM437.1 2539.9a14 14 0 1 0 28 0a14 14 0 1 0 -28 0zM444.8 2539.8a14 14 0 1 0 28 0a14 14 0 1 0 -28 0zM452.4 2539.6a14 14 0 1 0 28 0a14 14 0 1 0 -28 0zM460.1 2539.5a14 14 0 1 0 28 0a14 14 0 1 0 -28 0zM467.7 2539.4a14 14 0 1 0 28 0a14 14 0 1 0 -28 0zM475.4 2539.2a14 14 0 1 0 28 0a14 14 0 1 0 -28 0zM483 2539a14 14 0 1 0 28 0a14 14 0 1 0 -28 0zM490.7 2538.7a14 14 0 1 0 28 0a14 14 0 1 0 -28 0zM498.3 2538.4a14 14 0 1 0 28 0a14 14 0 1 0 -28 0zM505.9 2538.1a14 14 0 1 0 28 0a14 14 0 1 0 -28 0zM513.6 2537.8a14 14 0 1 0 28 0a14 14 0 1 0 -28 0zM521.2 2537.5a14 14 0 1 0 28 0a14 14 0 1 0 -28 0zM528.9 2537.2a14 14 0 1 0 28 0a14 14 0 1 0 -28 0zM536.5 2536.9a14 14 0 1 0 28 0a14 14 0 1 0 -28 0zM544.2 2536.6a14 14 0 1 0 28 0a14 14 0 1 0 -28 0zM551.8 2536.3a14 14 0 1 0 28 0a14 14 0 1 0 -28 0zM559.5 2536a14 14 0 1 0 28 0a14 14 0 1 0 -28 0zM567.1 2535.7a14 14 0 1 0 28 0a14 14 0 1 0 -28 0zM574.8 2535.4a14 14 0 1 0 28 0a14 14 0 1 0 -28 0zM582.4 2535.1a14 14 0 1 0 28 0a14 14 0 1 0 -28 0zM590.1 2534.8a14 14 0 1 0 28 0a14 14 0 1 0 -28 0zM597.7 2534.4a14 14 0 1 0 28 0a14 14 0 1 0 -28 0zM605.3 2534a14 14 0 1 0 28 0a14 14 0 1 0 -28 0zM613 2533.6a14 14 0 1 0 28 0a14 14 0 1 0 -28 0zM620.6 2533.1a14 14 0 1 0 28 0a14 14 0 1 0 -28 0zM628.3 2532.6a14 14 0 1 0 28 0a14 14 0 1 0 -28 0zM635.9 2532a14 14 0 1 0 28 0a14 14 0 1 0 -28 0zM643.6 2531.4a14 14 0 1 0 28 0a14 14 0 1 0 -28 0zM651.2 2530.7a14 14 0 1 0 28 0a14 14 0 1 0 -28 0zM658.9 2530a14 14 0 1 0 28 0a14 14 0 1 0 -28 0zM666.5 2529.3a14 14 0 1 0 28 0a14 14 0 1 0 -28 0zM674.2 2528.5a14 14 0 1 0 28 0a14 14 0 1 0 -28 0zM681.8 2527.7a14 14 0 1 0 28 0a14 14 0 1 0 -28 0zM689.5 2526.8a14 14 0 1 0 28 0a14 14 0 1 0 -28 0zM697.1 2526a14 14 0 1 0 28 0a14 14 0 1 0 -28 0zM704.8 2525a14 14 0 1 0 28 0a14 14 0 1 0 -28 0zM712.4 2524.1a14 14 0 1 0 28 0a14 14 0 1 0 -28 0zM720 2523.1a14 14 0 1 0 28 0a14 14 0 1 0 -28 0zM727.7 2522a14 14 0 1 0 28 0a14 14 0 1 0 -28 0zM735.3 2520.9a14 14 0 1 0 28 0a14 14 0 1 0 -28 0zM743 2519.7a14 14 0 1 0 28 0a14 14 0 1 0 -28 0zM750.6 2518.5a14 14 0 1 0 28 0a14 14 0 1 0 -28 0zM758.3 2517.2a14 14 0 1 0 28 0a14 14 0 1 0 -28 0zM765.9 2515.9a14 14 0 1 0 28 0a14 14 0 1 0 -28 0zM773.6 2514.5a14 14 0 1 0 28 0a14 14 0 1 0 -28 0zM781.2 2513a14 14 0 1 0 28 0a14 14 0 1 0 -28 0zM788.9 2511.5a14 14 0 1 0 28 0a14 14 0 1 0 -28 0zM796.5 2509.9a14 14 0 1 0 28 0a14 14 0 1 0 -28 0zM804.2 2508.2a14 14 0 1 0 28 0a14 14 0 1 0 -28 0zM811.8 2506.4a14 14 0 1 0 28 0a14 14 0 1 0 -28 0zM819.4 2504.6a14 14 0 1 0 28 0a14 14 0 1 0 -28 0zM827.1 2502.6a14 14 0 1 0 28 0a14 14 0 1 0 -28 0zM834.7 2500.6a14 14 0 1 0 28 0a14 14 0 1 0 -28 0zM842.4 2498.6a14 14 0 1 0 28 0a14 14 0 1 0 -28 0zM850 2496.4a14 14 0 1 0 28 0a14 14 0 1 0 -28 0zM857.7 2494.2a14 14 0 1 0 28 0a14 14 0 1 0 -28 0zM865.3 2491.8a14 14 0 1 0 28 0a14 14 0 1 0 -28 0zM873 2489.3a14 14 0 1 0 28 0a14 14 0 1 0 -28 0zM880.6 2486.7a14 14 0 1 0 28 0a14 14 0 1 0 -28 0zM888.3 2484a14 14 0 1 0 28 0a14 14 0 1 0 -28 0zM895.9 2481.2a14 14 0 1 0 28 0a14 14 0 1 0 -28 0zM903.6 2478.3a14 14 0 1 0 28 0a14 14 0 1 0 -28 0zM911.2 2475.3a14 14 0 1 0 28 0a14 14 0 1 0 -28 0zM918.9 2472.3a14 14 0 1 0 28 0a14 14 0 1 0 -28 0zM926.5 2469.3a14 14 0 1 0 28 0a14 14 0 1 0 -28 0zM934.1 2466.2a14 14 0 1 0 28 0a14 14 0 1 0 -28 0zM941.8 2463.1a14 14 0 1 0 28 0a14 14 0 1 0 -28 0zM949.4 2459.9a14 14 0 1 0 28 0a14 14 0 1 0 -28 0zM957.1 2456.3a14 14 0 1 0 28 0a14 14 0 1 0 -28 0zM964.7 2452.4a14 14 0 1 0 28 0a14 14 0 1 0 -28 0zM972.4 2448.2a14 14 0 1 0 28 0a14 14 0 1 0 -28 0zM980 2443.6a14 14 0 1 0 28 0a14 14 0 1 0 -28 0zM987.7 2438.6a14 14 0 1 0 28 0a14 14 0 1 0 -28 0zM995.3 2433.5a14 14 0 1 0 28 0a14 14 0 1 0 -28 0zM1003 2428.1a14 14 0 1 0 28 0a14 14 0 1 0 -28 0zM1010.6 2422.6a14 14 0 1 0 28 0a14 14 0 1 0 -28 0zM1018.3 2416.9a14 14 0 1 0 28 0a14 14 0 1 0 -28 0zM1025.9 2410.7a14 14 0 1 0 28 0a14 14 0 1 0 -28 0zM1033.6 2404.1a14 14 0 1 0 28 0a14 14 0 1 0 -28 0zM1041.2 2396.8a14 14 0 1 0 28 0a14 14 0 1 0 -28 0zM1048.8 2388.6a14 14 0 1 0 28 0a14 14 0 1 0 -28 0zM1056.5 2379.5a14 14 0 1 0 28 0a14 14 0 1 0 -28 0zM1064.1 2369.4a14 14 0 1 0 28 0a14 14 0 1 0 -28 0zM1071.8 2358.5a14 14 0 1 0 28 0a14 14 0 1 0 -28 0zM1079.4 2346.6a14 14 0 1 0 28 0a14 14 0 1 0 -28 0zM1087.1 2333.5a14 14 0 1 0 28 0a14 14 0 1 0 -28 0zM1094.7 2319a14 14 0 1 0 28 0a14 14 0 1 0 -28 0zM1102.4 2302.9a14 14 0 1 0 28 0a14 14 0 1 0 -28 0zM1110 2284.1a14 14 0 1 0 28 0a14 14 0 1 0 -28 0zM1117.7 2262.9a14 14 0 1 0 28 0a14 14 0 1 0 -28 0zM1125.3 2237.1a14 14 0 1 0 28 0a14 14 0 1 0 -28 0zM1133 2205.2a14 14 0 1 0 28 0a14 14 0 1 0 -28 0zM1140.6 2163.8a14 14 0 1 0 28 0a14 14 0 1 0 -28 0zM1148.2 2104.9a14 14 0 1 0 28 0a14 14 0 1 0 -28 0zM1155.9 2006.8a14 14 0 1 0 28 0a14 14 0 1 0 -28 0zM1163.5 1762.9a14 14 0 1 0 28 0a14 14 0 1 0 -28 0z"/>
<polyline fill="none" stroke="#0000ff" stroke-width="2" stroke-linejoin="round" points="175.9,2541.3 183.5,2541.3 191.1,2541.3 198.8,2541.3 206.4,2541.3 214.1,2541.3 221.7,2541.2 229.4,2541.2 237,2541.2 244.7,2541.2 252.3,2541.2 260,2541.2 267.6,2541.2 275.3,2541.2 282.9,2541.1 290.6,2541.1 298.2,2541.1 305.8,2541.1 313.5,2541.1 321.1,2541.1 328.8,2541 336.4,2541 344.1,2541 351.7,2540.9 359.4,2540.9 367,2540.9 374.7,2540.8 382.3,2540.7 390,2540.7 397.6,2540.6 405.2,2540.6 412.9,2540.5 420.5,2540.4 428.2,2540.3 435.8,2540.2 443.5,2540.1 451.1,2540.1 458.8,2540 466.4,2539.9 474.1,2539.7 481.7,2539.6 489.4,2539.5 497,2539.3 504.7,2539.1 512.3,2538.8 519.9,2538.6 527.6,2538.3 535.2,2538 542.9,2537.7 550.5,2537.4 558.2,2537.1 565.8,2536.8 573.5,2536.5 581.1,2536.1 588.8,2535.8 596.4,2535.4 604.1,2535 611.7,2534.5 619.3,2534.1 627,2533.6 634.6,2533.1 642.3,2532.6 649.9,2532.1 657.6,2531.5 665.2,2531 672.9,2530.4 680.5,2529.7 688.2,2529.1 695.8,2528.4 703.5,2527.6 711.1,2526.9 718.8,2526.1 726.4,2525.2 734,2524.4 741.7,2523.4 749.3,2522.4 757,2521.3 764.6,2520.1 772.3,2518.8 779.9,2517.5 787.6,2516.2 795.2,2514.7 802.9,2513.3 810.5,2511.7 818.2,2510.2 825.8,2508.5 833.4,2506.9 841.1,2505.1 848.7,2503.3 856.4,2501.5 864,2499.6 871.7,2497.7 879.3,2495.8 887,2493.7 894.6,2491.5 902.3,2489.1 909.9,2486.7 917.6,2484.2 925.2,2481.7 932.9,2479.2 940.5,2476.5 948.1,2473.9 955.8,2471.1 963.4,2468.3 971.1,2465.5 978.7,2462.7 986.4,2459.5 994,2455.7 1001.7,2451.5 1009.3,2446.9 1017,2442 1024.6,2436.6 1032.3,2430.9 1039.9,2425.1 1047.6,2419.7 1055.2,2414.3 1062.8,2408.5 1070.5,2402.4 1078.1,2396 1085.8,2389.5 1093.4,2382.6 1101.1,2374.8 1108.7,2366.9 1116.4,2358.2 1124,2349.6 1131.7,2339.6 1139.3,2329.2 1147,2317.9 1154.6,2305.4 1162.2,2292.9 1169.9,2278.4 1177.5,2262.7 1185.2,2246.1 1192.8,2226.6 1200.5,2203.1 1208.1,2175.7 1215.8,2142.7 1223.4,2100.7 1231.1,2042.9 1238.7,1951 1246.4,1652.3 1246.4,1461.5"/>
<path fill="#0000ff" d="M175.9 2522.3l16.5 26v3h-33v-3zM183.5 2522.3l16.5 26v3h-33v-3zM191.1 2522.3l16.5 26v3h-33v-3zM198.8 2522.3l16.5 26v3h-33v-3zM206.4 2522.3l16.5 26v3h-33v-3zM214.1 2522.3l16.5 26v3h-33v-3zM221.7 2522.2l16.5 26v3h-33v-3zM229.4 2522.2l16.5 26v3h-33v-3zM237 2522.2l16.5 26v3h-33v-3zM244.7 2522.2l16.5 26v3h-33v-3zM252.3 2522.2l16.5 26v3h-33v-3zM260 2522.2l16.5 26v3h-33v-3zM267.6 2522.2l16.5 26v3h-33v-3zM275.3 2522.2l16.5 26v3h-33v-3zM282.9 2522.1l16.5 26v3h-33v-3zM290.6 2522.1l16.5 26v3h-33v-3zM298.2 2522.1l16.5 26v3h-33v-3zM305.8 2522.1l16.5 26v3h-33v-3zM313.5 2522.1l16.5 26v3h-33v-3zM321.1 2522.1l16.5 26v3h-33v-3zM328.8 2522l16.5 26v3h-33v-3zM336.4 2522l16.5 26v3h-33v-3zM344.1 2522l16.5 26v3h-33v-3zM351.7 2521.9l16.5 26v3h-33v-3zM359.4 2521.9l16.5 26v3h-33v-3zM367 2521.9l16.5 26v3h-33v-3zM374.7 2521.8l16.5 26v3h-33v-3zM382.3 2521.7l16.5 26v3h-33v-3zM390 2521.7l16.5 26v3h-33v-3zM397.6 2521.6l16.5 26v3h-33v-3zM405.2 2521.6l16.5 26v3h-33v-3zM412.9 2521.5l16.5 26v3h-33v-3zM420.5 2521.4l16.5 26v3h-33v-3zM428.2 2521.3l16.5 26v3h-33v-3zM435.8 2521.2l16.5 26v3h-33v-3zM443.5 2521.1l16.5 26v3h-33v-3zM451.1 2521.1l16.5 26v3h-33v-3zM458.8 2521l16.5 26v3h-33v-3zM466.4 2520.9l16.5 26v3h-33v-3zM474.1 2520.7l16.5 26v3h-33v-3zM481.7 2520.6l16.5 26v3h-33v-3zM489.4 2520.5l16.5 26v3h-33v-3zM497 2520.3l16.5 26v3h-33v-3zM504.7 2520.1l16.5 26v3h-33v-3zM512.3 2519.8l16.5 26v3h-33v-3zM519.9 2519.6l16.5 26v3h-33v-3zM527.6 2519.3l16.5 26v3h-33v-3zM535.2 2519l16.5 26v3h-33v-3zM542.9 2518.7l16.5 26v3h-33v-3zM550.5 2518.4l16.5 26v3h-33v-3zM558.2 2518.1l16.5 26v3h-33v-3zM565.8 2517.8l16.5 26v3h-33v-3zM573.5 2517.5l16.5 26v3h-33v-3zM581.1 2517.1l16.5 26v3h-33v-3zM588.8 2516.8l16.5 26v3h-33v-3zM596.4 2516.4l16.5 26v3h-33v-3zM604.1 2516l16.5 26v3h-33v-3zM611.7 2515.5l16.5 26v3h-33v-3zM619.3 2515.1l16.5 26v3h-33v-3zM627 2514.6l16.5 26v3h-33v-3zM634.6 2514.1l16.5 26v3h-33v-3zM642.3 2513.6l16.5 26v3h-33v-3zM649.9 2513.1l16.5 26v3h-33v-3zM657.6 2512.5l16.5 26v3h-33v-3zM665.2 2512l16.5 26v3h-33v-3zM672.9 2511.4l16.5 26v3h-33v-3zM680.5 2510.7l16.5 26v3h-33v-3zM688.2 2510.1l16.5 26v3h-33v-3zM695.8 2509.4l16.5 26v3h-33v-3zM703.5 2508.6l16.5 26v3h-33v-3zM711.1 2507.9l16.5 26v3h-33v-3zM718.8 2507.1l16.5 26v3h-33v-3zM726.4 2506.2l16.5 26v3h-33v-3zM734 2505.4l16.5 26v3h-33v-3zM741.7 2504.4l16.5 26v3h-33v-3zM749.3 2503.4l16.5 26v3h-33v-3zM757 2502.3l16.5 26v3h-33v-3zM764.6 2501.1l16.5 26v3h-33v-3zM772.3 2499.8l16.5 26v3h-33v-3zM779.9 2498.5l16.5 26v3h-33v-3zM787.6 2497.2l16.5 26v3h-33v-3zM795.2 2495.7l16.5 26v3h-33v-3zM802.9 2494.3l16.5 26v3h-33v-3zM810.5 2492.7l16.5 26v3h-33v-3zM818.2 2491.2l16.5 26v3h-33v-3zM825.8 2489.5l16.5 26v3h-33v-3zM833.4 2487.9l16.5 26v3h-33v-3zM841.1 2486.1l16.5 26v3h-33v-3zM848.7 2484.3l16.5 26v3h-33v-3zM856.4 2482.5l16.5 26v3h-33v-3zM864 2480.6l16.5 26v3h-33v-3zM871.7 2478.7l16.5 26v3h-33v-3zM879.3 2476.8l16.5 26v3h-33v-3zM887 2474.7l16.5 26v3h-33v-3zM894.6 2472.5l16.5 26v3h-33v-3zM902.3 2470.1l16.5 26v3h-33v-3zM909.9 2467.7l16.5 26v3h-33v-3zM917.6 2465.2l16.5 26v3h-33v-3zM925.2 2462.7l16.5 26v3h-33v-3zM932.9 2460.2l16.5 26v3h-33v-3zM940.5 2457.5l16.5 26v3h-33v-3zM948.1 2454.9l16.5 26v3h-33v-3zM955.8 2452.1l16.5 26v3h-33v-3zM963.4 2449.3l16.5 26v3h-33v-3zM971.1 2446.5l16.5 26v3h-33v-3zM978.7 2443.7l16.5 26v3h-33v-3zM986.4 2440.5l16.5 26v3h-33v-3zM994 2436.7l16.5 26v3h-33v-3zM1001.7 2432.5l16.5 26v3h-33v-3zM1009.3 2427.9l16.5 26v3h-33v-3zM1017 2423l16.5 26v3h-33v-3zM1024.6 2417.6l16.5 26v3h-33v-3zM1032.3 2411.9l16.5 26v3h-33v-3zM1039.9 2406.1l16.5 26v3h-33v-3zM1047.6 2400.7l16.5 26v3h-33v-3zM1055.2 2395.3l16.5 26v3h-33v-3zM1062.8 2389.5l16.5 26v3h-33v-3zM1070.5 2383.4l16.5 26v3h-33v-3zM1078.1 2377l16.5 26v3h-33v-3zM1085.8 2370.5l16.5 26v3h-33v-3zM1093.4 2363.6l16.5 26v3h-33v-3zM1101.1 2355.8l16.5 26v3h-33v-3zM1108.7 2347.9l16.5 26v3h-33v-3zM1116.4 2339.2l16.5 26v3h-33v-3zM1124 2330.6l16.5 26v3h-33v-3zM1131.7 2320.6l16.5 26v3h-33v-3zM1139.3 2310.2l16.5 26v3h-33v-3zM1147 2298.9l16.5 26v3h-33v-3zM1154.6 2286.4l16.5 26v3h-33v-3zM1162.2 2273.9l16.5 26v3h-33v-3zM1169.9 2259.4l16.5 26v3h-33v-3zM1177.5 2243.7l16.5 26v3h-33v-3zM1185.2 2227.1l16.5 26v3h-33v-3zM1192.8 2207.6l16.5 26v3h-33v-3zM1200.5 2184.1l16.5 26v3h-33v-3zM1208.1 2156.7l16.5 26v3h-33v-3zM1215.8 2123.7l16.5 26v3h-33v-3zM1223.4 2081.7l16.5 26v3h-33v-3zM1231.1 2023.9l16.5 26v3h-33v-3zM1238.7 1932l16.5 26v3h-33v-3zM1246.4 1633.3l16.5 26v3h-33v-3z"/>
<polyline fill="none" stroke="#ff00ff" stroke-width="2" stroke-linejoin="round" points="175.9,2541.3 183.5,2541.3 191.1,2541.3 198.8,2541.3 206.4,2541.3 214.1,2541.3 221.7,2541.2 229.4,2541.2 237,2541.2 244.7,2541.2 252.3,2541.2 260,2541.2 267.6,2541.2 275.3,2541.2 282.9,2541.1 290.6,2541.1 298.2,2541.1 305.8,2541.1 313.5,2541.1 321.1,2541.1 328.8,2541 336.4,2541 344.1,2541 351.7,2540.9 359.4,2540.8 367,2540.8 374.7,2540.7 382.3,2540.6 390,2540.5 397.6,2540.4 405.2,2540.3 412.9,2540.2 420.5,2540.1 428.2,2540 435.8,2539.8 443.5,2539.7 451.1,2539.6 458.8,2539.4 466.4,2539.2 474.1,2539.1 481.7,2538.9 489.4,2538.7 497,2538.4 504.7,2538.1 512.3,2537.7 519.9,2537.3 527.6,2536.9 535.2,2536.5 542.9,2536 550.5,2535.6 558.2,2535.1 565.8,2534.6 573.5,2534 581.1,2533.4 588.8,2532.8 596.4,2532.2 604.1,2531.5 611.7,2530.7 619.3,2530 627,2529.2 634.6,2528.4 642.3,2527.6 649.9,2526.7 657.6,2525.8 665.2,2524.9 672.9,2523.9 680.5,2522.8 688.2,2521.7 695.8,2520.6 703.5,2519.4 711.1,2518.1 718.8,2516.8 726.4,2515.4 734,2513.9 741.7,2512.3 749.3,2510.7 757,2509 764.6,2507.2 772.3,2505.4 779.9,2503.5 787.6,2501.6 795.2,2499.5 802.9,2497.4 810.5,2495.2 818.2,2492.8 825.8,2490.4 833.4,2487.8 841.1,2485.1 848.7,2482.3 856.4,2479.2 864,2475.9 871.7,2472.5 879.3,2468.8 887,2465 894.6,2461 902.3,2457 909.9,2452.7 917.6,2448.3 925.2,2443.6 932.9,2438.7 940.5,2433.6 948.1,2428.3 955.8,2422.7 963.4,2416.7 971.1,2410.1 978.7,2402.7 986.4,2394.1 994,2385.5 1001.7,2375.8 1009.3,2366 1017,2355.3 1024.6,2343.4 1032.3,2329.4 1039.9,2315.4 1047.6,2298.6 1055.2,2279.8 1062.8,2256.8 1070.5,2230.7 1078.1,2197.2 1085.8,2155.4 1093.4,2095.5 1101.1,1996.8 1108.7,1753.6 1108.8,1461.5"/>
<path fill="#ff00ff" d="M175.9 2560.3l-16.5 -26v-3h33v3zM183.5 2560.3l-16.5 -26v-3h33v3zM191.1 2560.3l-16.5 -26v-3h33v3zM198.8 2560.3l-16.5 -26v-3h33v3zM206.4 2560.3l-16.5 -26v-3h33v3zM214.1 2560.3l-16.5 -26v-3h33v3zM221.7 2560.2l-16.5 -26v-3h33v3zM229.4 2560.2l-16.5 -26v-3h33v3zM237 2560.2l-16.5 -26v-3h33v3zM244.7 2560.2l-16.5 -26v-3h33v3zM252.3 2560.2l-16.5 -26v-3h33v3zM260 2560.2l-16.5 -26v-3h33v3zM267.6 2560.2l-16.5 -26v-3h33v3zM275.3 2560.2l-16.5 -26v-3h33v3zM282.9 2560.1l-16.5 -26v-3h33v3zM290.6 2560.1l-16.5 -26v-3h33v3zM298.2 2560.1l-16.5 -26v-3h33v3zM305.8 2560.1l-16.5 -26v-3h33v3zM313.5 2560.1l-16.5 -26v-3h33v3zM321.1 2560.1l-16.5 -26v-3h33v3zM328.8 2560l-16.5 -26v-3h33v3zM336.4 2560l-16.5 -26v-3h33v3zM344.1 2560l-16.5 -26v-3h33v3zM351.7 2559.9l-16.5 -26v-3h33v3zM359.4 2559.8l-16.5 -26v-3h33v3zM367 2559.8l-16.5 -26v-3h33v3zM374.7 2559.7l-16.5 -26v-3h33v3zM382.3 2559.6l-16.5 -26v-3h33v3zM390 2559.5l-16.5 -26v-3h33v3zM397.6 2559.4l-16.5 -26v-3h33v3zM405.2 2559.3l-16.5 -26v-3h33v3zM412.9 2559.2l-16.5 -26v-3h33v3zM420.5 2559.1l-16.5 -26v-3h33v3zM428.2 2559l-16.5 -26v-3h33v3zM435.8 2558.8l-16.5 -26v-3h33v3zM443.5 2558.7l-16.5 -26v-3h33v3zM451.1 2558.6l-16.5 -26v-3h33v3zM458.8 2558.4l-16.5 -26v-3h33v3zM466.4 2558.2l-16.5 -26v-3h33v3zM474.1 2558.1l-16.5 -26v-3h33v3zM481.7 2557.9l-16.5 -26v-3h33v3zM489.4 2557.7l-16.5 -26v-3h33v3zM497 2557.4l-16.5 -26v-3h33v3zM504.7 2557.1l-16.5 -26v-3h33v3zM512.3 2556.7l-16.5 -26v-3h33v3zM519.9 2556.3l-16.5 -26v-3h33v3zM527.6 2555.9l-16.5 -26v-3h33v3zM535.2 2555.5l-16.5 -26v-3h33v3zM542.9 2555l-16.5 -26v-3h33v3zM550.5 2554.6l-16.5 -26v-3h33v3zM558.2 2554.1l-16.5 -26v-3h33v3zM565.8 2553.6l-16.5 -26v-3h33v3zM573.5 2553l-16.5 -26v-3h33v3zM581.1 2552.4l-16.5 -26v-3h33v3zM588.8 2551.8l-16.5 -26v-3h33v3zM596.4 2551.2l-16.5 -26v-3h33v3zM604.1 2550.5l-16.5 -26v-3h33v3zM611.7 2549.7l-16.5 -26v-3h33v3zM619.3 2549l-16.5 -26v-3h33v3zM627 2548.2l-16.5 -26v-3h33v3zM634.6 2547.4l-16.5 -26v-3h33v3zM642.3 2546.6l-16.5 -26v-3h33v3zM649.9 2545.7l-16.5 -26v-3h33v3zM657.6 2544.8l-16.5 -26v-3h33v3zM665.2 2543.9l-16.5 -26v-3h33v3zM672.9 2542.9l-16.5 -26v-3h33v3zM680.5 2541.8l-16.5 -26v-3h33v3zM688.2 2540.7l-16.5 -26v-3h33v3zM695.8 2539.6l-16.5 -26v-3h33v3zM703.5 2538.4l-16.5 -26v-3h33v3zM711.1 2537.1l-16.5 -26v-3h33v3zM718.8 2535.8l-16.5 -26v-3h33v3zM726.4 2534.4l-16.5 -26v-3h33v3zM734 2532.9l-16.5 -26v-3h33v3zM741.7 2531.3l-16.5 -26v-3h33v3zM749.3 2529.7l-16.5 -26v-3h33v3zM757 2528l-16.5 -26v-3h33v3zM764.6 2526.2l-16.5 -26v-3h33v3zM772.3 2524.4l-16.5 -26v-3h33v3zM779.9 2522.5l-16.5 -26v-3h33v3zM787.6 2520.6l-16.5 -26v-3h33v3zM795.2 2518.5l-16.5 -26v-3h33v3zM802.9 2516.4l-16.5 -26v-3h33v3zM810.5 2514.2l-16.5 -26v-3h33v3zM818.2 2511.8l-16.5 -26v-3h33v3zM825.8 2509.4l-16.5 -26v-3h33v3zM833.4 2506.8l-16.5 -26v-3h33v3zM841.1 2504.1l-16.5 -26v-3h33v3zM848.7 2501.3l-16.5 -26v-3h33v3zM856.4 2498.2l-16.5 -26v-3h33v3zM864 2494.9l-16.5 -26v-3h33v3zM871.7 2491.5l-16.5 -26v-3h33v3zM879.3 2487.8l-16.5 -26v-3h33v3zM887 2484l-16.5 -26v-3h33v3zM894.6 2480l-16.5 -26v-3h33v3zM902.3 2476l-16.5 -26v-3h33v3zM909.9 2471.7l-16.5 -26v-3h33v3zM917.6 2467.3l-16.5 -26v-3h33v3zM925.2 2462.6l-16.5 -26v-3h33v3zM932.9 2457.7l-16.5 -26v-3h33v3zM940.5 2452.6l-16.5 -26v-3h33v3zM948.1 2447.3l-16.5 -26v-3h33v3zM955.8 2441.7l-16.5 -26v-3h33v3zM963.4 2435.7l-16.5 -26v-3h33v3zM971.1 2429.1l-16.5 -26v-3h33v3zM978.7 2421.7l-16.5 -26v-3h33v3zM986.4 2413.1l-16.5 -26v-3h33v3zM994 2404.5l-16.5 -26v-3h33v3zM1001.7 2394.8l-16.5 -26v-3h33v3zM1009.3 2385l-16.5 -26v-3h33v3zM1017 2374.3l-16.5 -26v-3h33v3zM1024.6 2362.4l-16.5 -26v-3h33v3zM1032.3 2348.4l-16.5 -26v-3h33v3zM1039.9 2334.4l-16.5 -26v-3h33v3zM1047.6 2317.6l-16.5 -26v-3h33v3zM1055.2 2298.8l-16.5 -26v-3h33v3zM1062.8 2275.8l-16.5 -26v-3h33v3zM1070.5 2249.7l-16.5 -26v-3h33v3zM1078.1 2216.2l-16.5 -26v-3h33v3zM1085.8 2174.4l-16.5 -26v-3h33v3zM1093.4 2114.5l-16.5 -26v-3h33v3zM1101.1 2015.8l-16.5 -26v-3h33v3zM1108.7 1772.6l-16.5 -26v-3h33v3z"/>
<polyline fill="none" stroke="#008000" stroke-width="3" stroke-linejoin="round" points="175.9,2541.3 183.5,2541.3 191.1,2541.3 198.8,2541.3 206.4,2541.3 214.1,2541.2 221.7,2541.2 229.4,2541.2 237,2541.2 244.7,2541.2 252.3,2541.2 260,2541.1 267.6,2541.1 275.3,2541.1 282.9,2541.1 290.6,2541.1 298.2,2541 305.8,2541 313.5,2541 321.1,2540.9 328.8,2540.9 336.4,2540.9 344.1,2540.8 351.7,2540.8 359.4,2540.7 367,2540.6 374.7,2540.6 382.3,2540.5 390,2540.4 397.6,2540.3 405.2,2540.2 412.9,2540.1 420.5,2539.9 428.2,2539.8 435.8,2539.7 443.5,2539.5 451.1,2539.4 458.8,2539.2 466.4,2539 474.1,2538.9 481.7,2538.6 489.4,2538.4 497,2538 504.7,2537.6 512.3,2537.2 519.9,2536.7 527.6,2536.2 535.2,2535.6 542.9,2535.1 550.5,2534.5 558.2,2533.9 565.8,2533.3 573.5,2532.6 581.1,2531.8 588.8,2531.1 596.4,2530.2 604.1,2529.4 611.7,2528.4 619.3,2527.5 627,2526.5 634.6,2525.4 642.3,2524.3 649.9,2523 657.6,2521.7 665.2,2520.4 672.9,2519 680.5,2517.6 688.2,2516.3 695.8,2514.9 703.5,2513.5 711.1,2512.1 718.8,2510.6 726.4,2509.1 734,2507.4 741.7,2505.6 749.3,2503.6 757,2501.4 764.6,2498.9 772.3,2496.4 779.9,2493.9 787.6,2491.3 795.2,2488.4 802.9,2485 810.5,2481.5 818.2,2478.6 825.8,2475.4 833.4,2471.6 841.1,2467.5 848.7,2463.6 856.4,2459.5 864,2454.4 871.7,2449.1 879.3,2444.3 887,2439.4 894.6,2433.8 902.3,2427.4 909.9,2420.1 917.6,2413.2 925.2,2406.5 932.9,2399.5 940.5,2391.9 948.1,2383.7 955.8,2374.9 963.4,2365 971.1,2353.6 978.7,2339.6 986.4,2324.5 994,2308.3 1001.7,2291 1009.3,2272.7 1017,2250 1024.6,2222.4 1032.3,2188.6 1039.9,2144.4 1047.6,2081.1 1055.2,1971.5 1062.8,1656.3 1062.9,1461.5"/>
<path fill="#008000" d="M175.9 2523.6l18.2 17.7l-18.2 17.7l-18.2 -17.7zM183.5 2523.6l18.2 17.7l-18.2 17.7l-18.2 -17.7zM191.1 2523.6l18.2 17.7l-18.2 17.7l-18.2 -17.7zM198.8 2523.6l18.2 17.7l-18.2 17.7l-18.2 -17.7zM206.4 2523.6l18.2 17.7l-18.2 17.7l-18.2 -17.7zM214.1 2523.5l18.2 17.7l-18.2 17.7l-18.2 -17.7zM221.7 2523.5l18.2 17.7l-18.2 17.7l-18.2 -17.7zM229.4 2523.5l18.2 17.7l-18.2 17.7l-18.2 -17.7zM237 2523.5l18.2 17.7l-18.2 17.7l-18.2 -17.7zM244.7 2523.5l18.2 17.7l-18.2 17.7l-18.2 -17.7zM252.3 2523.5l18.2 17.7l-18.2 17.7l-18.2 -17.7zM260 2523.4l18.2 17.7l-18.2 17.7l-18.2 -17.7zM267.6 2523.4l18.2 17.7l-18.2 17.7l-18.2 -17.7zM275.3 2523.4l18.2 17.7l-18.2 17.7l-18.2 -17.7zM282.9 2523.4l18.2 17.7l-18.2 17.7l-18.2 -17.7zM290.6 2523.4l18.2 17.7l-18.2 17.7l-18.2 -17.7zM298.2 2523.3l18.2 17.7l-18.2 17.7l-18.2 -17.7zM305.8 2523.3l18.2 17.7l-18.2 17.7l-18.2 -17.7zM313.5 2523.3l18.2 17.7l-18.2 17.7l-18.2 -17.7zM321.1 2523.2l18.2 17.7l-18.2 17.7l-18.2 -17.7zM328.8 2523.2l18.2 17.7l-18.2 17.7l-18.2 -17.7zM336.4 2523.2l18.2 17.7l-18.2 17.7l-18.2 -17.7zM344.1 2523.1l18.2 17.7l-18.2 17.7l-18.2 -17.7zM351.7 2523.1l18.2 17.7l-18.2 17.7l-18.2 -17.7zM359.4 2523l18.2 17.7l-18.2 17.7l-18.2 -17.7zM367 2522.9l18.2 17.7l-18.2 17.7l-18.2 -17.7zM374.7 2522.9l18.2 17.7l-18.2 17.7l-18.2 -17.7zM382.3 2522.8l18.2 17.7l-18.2 17.7l-18.2 -17.7zM390 2522.7l18.2 17.7l-18.2 17.7l-18.2 -17.7zM397.6 2522.6l18.2 17.7l-18.2 17.7l-18.2 -17.7zM405.2 2522.5l18.2 17.7l-18.2 17.7l-18.2 -17.7zM412.9 2522.4l18.2 17.7l-18.2 17.7l-18.2 -17.7zM420.5 2522.2l18.2 17.7l-18.2 17.7l-18.2 -17.7zM428.2 2522.1l18.2 17.7l-18.2 17.7l-18.2 -17.7zM435.8 2522l18.2 17.7l-18.2 17.7l-18.2 -17.7zM443.5 2521.8l18.2 17.7l-18.2 17.7l-18.2 -17.7zM451.1 2521.7l18.2 17.7l-18.2 17.7l-18.2 -17.7zM458.8 2521.5l18.2 17.7l-18.2 17.7l-18.2 -17.7zM466.4 2521.3l18.2 17.7l-18.2 17.7l-18.2 -17.7zM474.1 2521.2l18.2 17.7l-18.2 17.7l-18.2 -17.7zM481.7 2520.9l18.2 17.7l-18.2 17.7l-18.2 -17.7zM489.4 2520.7l18.2 17.7l-18.2 17.7l-18.2 -17.7zM497 2520.3l18.2 17.7l-18.2 17.7l-18.2 -17.7zM504.7 2519.9l18.2 17.7l-18.2 17.7l-18.2 -17.7zM512.3 2519.5l18.2 17.7l-18.2 17.7l-18.2 -17.7zM519.9 2519l18.2 17.7l-18.2 17.7l-18.2 -17.7zM527.6 2518.5l18.2 17.7l-18.2 17.7l-18.2 -17.7zM535.2 2517.9l18.2 17.7l-18.2 17.7l-18.2 -17.7zM542.9 2517.4l18.2 17.7l-18.2 17.7l-18.2 -17.7zM550.5 2516.8l18.2 17.7l-18.2 17.7l-18.2 -17.7zM558.2 2516.2l18.2 17.7l-18.2 17.7l-18.2 -17.7zM565.8 2515.6l18.2 17.7l-18.2 17.7l-18.2 -17.7zM573.5 2514.9l18.2 17.7l-18.2 17.7l-18.2 -17.7zM581.1 2514.1l18.2 17.7l-18.2 17.7l-18.2 -17.7zM588.8 2513.4l18.2 17.7l-18.2 17.7l-18.2 -17.7zM596.4 2512.5l18.2 17.7l-18.2 17.7l-18.2 -17.7zM604.1 2511.7l18.2 17.7l-18.2 17.7l-18.2 -17.7zM611.7 2510.7l18.2 17.7l-18.2 17.7l-18.2 -17.7zM619.3 2509.8l18.2 17.7l-18.2 17.7l-18.2 -17.7zM627 2508.8l18.2 17.7l-18.2 17.7l-18.2 -17.7zM634.6 2507.7l18.2 17.7l-18.2 17.7l-18.2 -17.7zM642.3 2506.6l18.2 17.7l-18.2 17.7l-18.2 -17.7zM649.9 2505.3l18.2 17.7l-18.2 17.7l-18.2 -17.7zM657.6 2504l18.2 17.7l-18.2 17.7l-18.2 -17.7zM665.2 2502.7l18.2 17.7l-18.2 17.7l-18.2 -17.7zM672.9 2501.3l18.2 17.7l-18.2 17.7l-18.2 -17.7zM680.5 2499.9l18.2 17.7l-18.2 17.7l-18.2 -17.7zM688.2 2498.6l18.2 17.7l-18.2 17.7l-18.2 -17.7zM695.8 2497.2l18.2 17.7l-18.2 17.7l-18.2 -17.7zM703.5 2495.8l18.2 17.7l-18.2 17.7l-18.2 -17.7zM711.1 2494.4l18.2 17.7l-18.2 17.7l-18.2 -17.7zM718.8 2492.9l18.2 17.7l-18.2 17.7l-18.2 -17.7zM726.4 2491.4l18.2 17.7l-18.2 17.7l-18.2 -17.7zM734 2489.7l18.2 17.7l-18.2 17.7l-18.2 -17.7zM741.7 2487.9l18.2 17.7l-18.2 17.7l-18.2 -17.7zM749.3 2485.9l18.2 17.7l-18.2 17.7l-18.2 -17.7zM757 2483.7l18.2 17.7l-18.2 17.7l-18.2 -17.7zM764.6 2481.2l18.2 17.7l-18.2 17.7l-18.2 -17.7zM772.3 2478.7l18.2 17.7l-18.2 17.7l-18.2 -17.7zM779.9 2476.2l18.2 17.7l-18.2 17.7l-18.2 -17.7zM787.6 2473.6l18.2 17.7l-18.2 17.7l-18.2 -17.7zM795.2 2470.7l18.2 17.7l-18.2 17.7l-18.2 -17.7zM802.9 2467.3l18.2 17.7l-18.2 17.7l-18.2 -17.7zM810.5 2463.8l18.2 17.7l-18.2 17.7l-18.2 -17.7zM818.2 2460.9l18.2 17.7l-18.2 17.7l-18.2 -17.7zM825.8 2457.7l18.2 17.7l-18.2 17.7l-18.2 -17.7zM833.4 2453.9l18.2 17.7l-18.2 17.7l-18.2 -17.7zM841.1 2449.8l18.2 17.7l-18.2 17.7l-18.2 -17.7zM848.7 2445.9l18.2 17.7l-18.2 17.7l-18.2 -17.7zM856.4 2441.8l18.2 17.7l-18.2 17.7l-18.2 -17.7zM864 2436.7l18.2 17.7l-18.2 17.7l-18.2 -17.7zM871.7 2431.4l18.2 17.7l-18.2 17.7l-18.2 -17.7zM879.3 2426.6l18.2 17.7l-18.2 17.7l-18.2 -17.7zM887 2421.7l18.2 17.7l-18.2 17.7l-18.2 -17.7zM894.6 2416.1l18.2 17.7l-18.2 17.7l-18.2 -17.7zM902.3 2409.7l18.2 17.7l-18.2 17.7l-18.2 -17.7zM909.9 2402.4l18.2 17.7l-18.2 17.7l-18.2 -17.7zM917.6 2395.5l18.2 17.7l-18.2 17.7l-18.2 -17.7zM925.2 2388.8l18.2 17.7l-18.2 17.7l-18.2 -17.7zM932.9 2381.8l18.2 17.7l-18.2 17.7l-18.2 -17.7zM940.5 2374.2l18.2 17.7l-18.2 17.7l-18.2 -17.7zM948.1 2366l18.2 17.7l-18.2 17.7l-18.2 -17.7zM955.8 2357.2l18.2 17.7l-18.2 17.7l-18.2 -17.7zM963.4 2347.3l18.2 17.7l-18.2 17.7l-18.2 -17.7zM971.1 2335.9l18.2 17.7l-18.2 17.7l-18.2 -17.7zM978.7 2321.9l18.2 17.7l-18.2 17.7l-18.2 -17.7zM986.4 2306.8l18.2 17.7l-18.2 17.7l-18.2 -17.7zM994 2290.6l18.2 17.7l-18.2 17.7l-18.2 -17.7zM1001.7 2273.3l18.2 17.7l-18.2 17.7l-18.2 -17.7zM1009.3 2255l18.2 17.7l-18.2 17.7l-18.2 -17.7zM1017 2232.3l18.2 17.7l-18.2 17.7l-18.2 -17.7zM1024.6 2204.7l18.2 17.7l-18.2 17.7l-18.2 -17.7zM1032.3 2170.9l18.2 17.7l-18.2 17.7l-18.2 -17.7zM1039.9 2126.7l18.2 17.7l-18.2 17.7l-18.2 -17.7zM1047.6 2063.4l18.2 17.7l-18.2 17.7l-18.2 -17.7zM1055.2 1953.8l18.2 17.7l-18.2 17.7l-18.2 -17.7zM1062.8 1638.6l18.2 17.7l-18.2 17.7l-18.2 -17.7z"/>
</g>
<g class="ser">
<text transform="translate(160 2613.8) scale(1 1.03)" text-anchor="end">0.0</text>
<text transform="translate(160 2394.9) scale(1 1.03)" text-anchor="end">0.2</text>
<text transform="translate(160 2176) scale(1 1.03)" text-anchor="end">0.4</text>
<text transform="translate(160 1957.1) scale(1 1.03)" text-anchor="end">0.6</text>
<text transform="translate(160 1738.2) scale(1 1.03)" text-anchor="end">0.8</text>
<text transform="translate(160 1519.3) scale(1 1.03)" text-anchor="end">1.0</text>
<text transform="translate(322.1 2662.4) scale(1 1.03)" text-anchor="middle">10</text>
<text transform="translate(475.1 2662.4) scale(1 1.03)" text-anchor="middle">20</text>
<text transform="translate(628 2662.4) scale(1 1.03)" text-anchor="middle">30</text>
<text transform="translate(780.9 2662.4) scale(1 1.03)" text-anchor="middle">40</text>
<text transform="translate(933.9 2662.4) scale(1 1.03)" text-anchor="middle">50</text>
<text transform="translate(1086.8 2662.4) scale(1 1.03)" text-anchor="middle">60</text>
<text transform="translate(1239.7 2662.4) scale(1 1.03)" text-anchor="middle">70</text>
<text transform="translate(1392.6 2662.4) scale(1 1.03)" text-anchor="middle">80</text>
<text transform="translate(1545.6 2662.4) scale(1 1.03)" text-anchor="middle">90</text>
<text transform="translate(1698.5 2662.4) scale(1 1.03)" text-anchor="middle">100</text>
</g>
<text class="san" font-size="58" x="941.4" y="2757.1" text-anchor="middle">Time / year</text>
<text class="san it" font-size="58" transform="translate(63 2047.5) rotate(-90) scale(1 1.05)" text-anchor="middle">D</text>
<text font-family="'Liberation Serif',serif" font-size="77" y="2864.6"><tspan x="821">(</tspan><tspan x="845.5" font-weight="bold" font-size="81">b</tspan><tspan x="892">)</tspan></text>
<g shape-rendering="crispEdges">
<rect x="1287" y="1512" width="405" height="329" fill="#000"/>
<rect x="1289" y="1514" width="401" height="325" fill="#fff"/>
<rect x="1318" y="1554" width="122" height="2" fill="#000000"/>
<path fill="#000000" d="M1366.5 1542h25v26h-25z"/>
<rect x="1318" y="1618" width="122" height="2" fill="#ff0000"/>
<path fill="#ff0000" d="M1365 1619a14 14 0 1 0 28 0a14 14 0 1 0 -28 0z"/>
<rect x="1318" y="1682" width="122" height="2" fill="#0000ff"/>
<path fill="#0000ff" d="M1379 1664l16.5 26v3h-33v-3z"/>
<rect x="1318" y="1746" width="122" height="2" fill="#ff00ff"/>
<path fill="#ff00ff" d="M1379 1766l-16.5 -26v-3h33v3z"/>
<rect x="1318" y="1810" width="122" height="2" fill="#008000"/>
<path fill="#008000" d="M1379 1793.3l18.2 17.7l-18.2 17.7l-18.2 -17.7z"/>
</g>
<g class="san" font-size="54">
<text x="1455" y="1573.3"><tspan class="it">l/a</tspan> = <tspan dx="-2">0.25</tspan></text>
<text x="1455" y="1637.3"><tspan class="it">l/a</tspan> = <tspan dx="-2">0.5</tspan></text>
<text x="1455" y="1701.3"><tspan class="it">l/a</tspan> = <tspan dx="-2">1</tspan></text>
<text x="1455" y="1765.3"><tspan class="it">l/a</tspan> = <tspan dx="-2">2</tspan></text>
<text x="1455" y="1829.3"><tspan class="it">l/a</tspan> = <tspan dx="-2">3</tspan></text>
</g>
</svg></body></html>
